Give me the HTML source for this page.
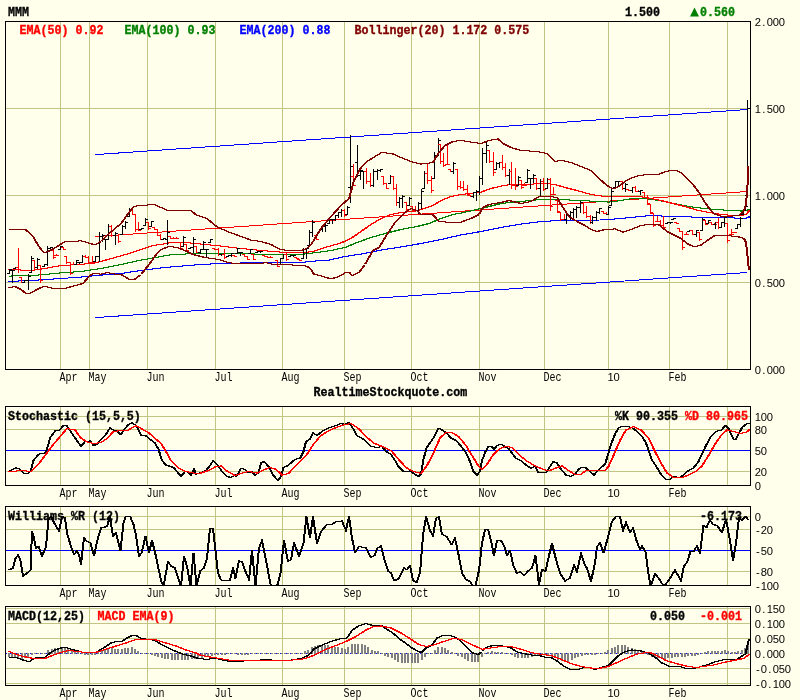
<!DOCTYPE html>
<html><head><meta charset="utf-8"><title>MMM</title>
<style>html,body{margin:0;padding:0;background:#FFFFEC;}svg{display:block;}text{-webkit-font-smoothing:antialiased;}</style></head>
<body>
<svg width="800" height="700" viewBox="0 0 800 700" shape-rendering="crispEdges" font-family="'Liberation Mono', monospace">
<rect width="800" height="700" fill="#FFFFEC"/>
<rect x="60" y="21" width="1" height="348" fill="#C2C484"/>
<rect x="89" y="21" width="1" height="348" fill="#C2C484"/>
<rect x="147" y="21" width="1" height="348" fill="#C2C484"/>
<rect x="215" y="21" width="1" height="348" fill="#C2C484"/>
<rect x="282" y="21" width="1" height="348" fill="#C2C484"/>
<rect x="344" y="21" width="1" height="348" fill="#C2C484"/>
<rect x="411" y="21" width="1" height="348" fill="#C2C484"/>
<rect x="479" y="21" width="1" height="348" fill="#C2C484"/>
<rect x="544" y="21" width="1" height="348" fill="#C2C484"/>
<rect x="608" y="21" width="1" height="348" fill="#C2C484"/>
<rect x="669" y="21" width="1" height="348" fill="#C2C484"/>
<rect x="727" y="21" width="1" height="348" fill="#C2C484"/>
<rect x="5" y="108" width="746" height="1" fill="#C2C484"/>
<rect x="5" y="195" width="746" height="1" fill="#C2C484"/>
<rect x="5" y="282" width="746" height="1" fill="#C2C484"/>
<polyline points="95.5,154.6 747.5,109.5" fill="none" stroke="#0000FF" stroke-width="1"/>
<polyline points="95.5,317.6 747.5,272.5" fill="none" stroke="#0000FF" stroke-width="1"/>
<polyline points="95.5,236.6 747.5,191.5" fill="none" stroke="#FF0000" stroke-width="1"/>
<polyline points="8.5,281.5 40.5,279.9 60.5,278.5 80.5,277.1 100.5,275.1 120.5,273.5 140.5,270.5 160.5,267.9 180.5,266.1 200.5,264.5 220.5,263.5 260.5,262.5 300.5,262.5 320.5,260.5 326.5,260.5 344.5,256.5 360.5,254.1 380.5,250.1 400.5,246.9 420.5,243.5 440.5,239.5 460.5,234.9 480.5,231.5 500.5,227.5 520.5,224.1 540.5,221.5 560.5,220.5 580.5,220.1 600.5,220.0 620.5,218.5 636.5,216.9 650.5,215.5 670.5,216.5 690.5,217.0 710.5,217.5 733.5,217.7 735.5,218.7 739.5,218.3 746.5,218.0 749.0,216.7" fill="none" stroke="#0000FF" stroke-width="1"/>
<polyline points="9.5,281.5 41.5,279.9 61.5,278.5 81.5,277.1 101.5,275.1 121.5,273.5 141.5,270.5 161.5,267.9 181.5,266.1 201.5,264.5 221.5,263.5 261.5,262.5 301.5,262.5 321.5,260.5 327.5,260.5 345.5,256.5 361.5,254.1 381.5,250.1 401.5,246.9 421.5,243.5 441.5,239.5 461.5,234.9 481.5,231.5 501.5,227.5 521.5,224.1 541.5,221.5 561.5,220.5 581.5,220.1 601.5,220.0 621.5,218.5 637.5,216.9 651.5,215.5 671.5,216.5 691.5,217.0 711.5,217.5 734.5,217.7 736.5,218.7 740.5,218.3 747.5,218.0 750.0,216.7" fill="none" stroke="#0000FF" stroke-width="1"/>
<polyline points="8.5,276.1 40.5,274.9 60.5,272.9 80.5,271.5 100.5,268.5 120.5,264.5 140.5,260.1 160.5,256.5 172.5,254.5 192.5,253.7 220.5,253.5 260.5,254.1 300.5,254.5 316.5,252.5 330.5,250.5 344.5,247.5 356.5,242.5 370.5,237.5 384.5,233.5 400.5,229.5 416.5,226.5 428.5,223.5 440.5,218.5 452.5,214.5 460.5,213.1 480.5,208.5 500.5,203.5 520.5,201.5 540.5,199.5 554.5,199.1 570.5,200.1 590.5,201.1 608.5,202.1 620.5,200.5 626.5,199.1 640.5,198.5 652.5,199.5 666.5,202.1 680.5,204.9 694.5,207.5 708.5,208.9 724.5,210.1 740.5,211.0 746.5,210.5 749.0,209.0" fill="none" stroke="#008000" stroke-width="1"/>
<polyline points="9.5,276.1 41.5,274.9 61.5,272.9 81.5,271.5 101.5,268.5 121.5,264.5 141.5,260.1 161.5,256.5 173.5,254.5 193.5,253.7 221.5,253.5 261.5,254.1 301.5,254.5 317.5,252.5 331.5,250.5 345.5,247.5 357.5,242.5 371.5,237.5 385.5,233.5 401.5,229.5 417.5,226.5 429.5,223.5 441.5,218.5 453.5,214.5 461.5,213.1 481.5,208.5 501.5,203.5 521.5,201.5 541.5,199.5 555.5,199.1 571.5,200.1 591.5,201.1 609.5,202.1 621.5,200.5 627.5,199.1 641.5,198.5 653.5,199.5 667.5,202.1 681.5,204.9 695.5,207.5 709.5,208.9 725.5,210.1 741.5,211.0 747.5,210.5 750.0,209.0" fill="none" stroke="#008000" stroke-width="1"/>
<polyline points="8.5,269.5 30.5,270.5 44.5,268.5 60.5,265.5 80.5,264.5 96.5,262.5 112.5,258.1 128.5,253.5 140.5,249.5 152.5,245.5 160.5,244.5 172.5,242.1 184.5,242.5 200.5,244.1 220.5,246.1 240.5,248.5 260.5,250.5 280.5,252.1 300.5,253.0 312.5,251.5 324.5,247.5 340.5,242.9 350.5,238.5 360.5,231.5 370.5,224.5 380.5,218.5 390.5,214.5 400.5,212.5 412.5,211.5 420.5,209.5 432.5,205.5 440.5,200.5 450.5,196.5 460.5,194.5 480.5,192.1 490.5,188.5 500.5,186.1 510.5,184.5 530.5,184.1 544.5,183.5 554.5,184.5 564.5,187.5 576.5,190.5 590.5,194.5 604.5,196.5 620.5,196.9 636.5,196.1 648.5,198.1 660.5,200.5 672.5,203.5 684.5,206.5 696.5,210.1 708.5,212.5 720.5,214.5 732.5,215.5 740.5,215.5 745.5,214.5 749.0,210.5" fill="none" stroke="#FF0000" stroke-width="1"/>
<polyline points="9.5,269.5 31.5,270.5 45.5,268.5 61.5,265.5 81.5,264.5 97.5,262.5 113.5,258.1 129.5,253.5 141.5,249.5 153.5,245.5 161.5,244.5 173.5,242.1 185.5,242.5 201.5,244.1 221.5,246.1 241.5,248.5 261.5,250.5 281.5,252.1 301.5,253.0 313.5,251.5 325.5,247.5 341.5,242.9 351.5,238.5 361.5,231.5 371.5,224.5 381.5,218.5 391.5,214.5 401.5,212.5 413.5,211.5 421.5,209.5 433.5,205.5 441.5,200.5 451.5,196.5 461.5,194.5 481.5,192.1 491.5,188.5 501.5,186.1 511.5,184.5 531.5,184.1 545.5,183.5 555.5,184.5 565.5,187.5 577.5,190.5 591.5,194.5 605.5,196.5 621.5,196.9 637.5,196.1 649.5,198.1 661.5,200.5 673.5,203.5 685.5,206.5 697.5,210.1 709.5,212.5 721.5,214.5 733.5,215.5 741.5,215.5 746.5,214.5 750.0,210.5" fill="none" stroke="#FF0000" stroke-width="1"/>
<rect x="9" y="269" width="1" height="5" fill="#000"/>
<rect x="7" y="273" width="2" height="1" fill="#000"/>
<rect x="10" y="269" width="2" height="1" fill="#000"/>
<rect x="12" y="270" width="1" height="13" fill="#000"/>
<rect x="10" y="270" width="2" height="1" fill="#000"/>
<rect x="13" y="270" width="2" height="1" fill="#000"/>
<rect x="15" y="267" width="1" height="2" fill="#000"/>
<rect x="13" y="268" width="2" height="1" fill="#000"/>
<rect x="16" y="267" width="2" height="1" fill="#000"/>
<rect x="18" y="248" width="1" height="25" fill="#FF0000"/>
<rect x="16" y="267" width="2" height="1" fill="#FF0000"/>
<rect x="19" y="269" width="2" height="1" fill="#FF0000"/>
<rect x="21" y="277" width="1" height="6" fill="#FF0000"/>
<rect x="19" y="277" width="2" height="1" fill="#FF0000"/>
<rect x="22" y="282" width="2" height="1" fill="#FF0000"/>
<rect x="24" y="280" width="1" height="3" fill="#000"/>
<rect x="22" y="282" width="2" height="1" fill="#000"/>
<rect x="25" y="280" width="2" height="1" fill="#000"/>
<rect x="28" y="274" width="1" height="16" fill="#000"/>
<rect x="26" y="280" width="2" height="1" fill="#000"/>
<rect x="29" y="276" width="2" height="1" fill="#000"/>
<rect x="31" y="256" width="1" height="17" fill="#000"/>
<rect x="29" y="272" width="2" height="1" fill="#000"/>
<rect x="32" y="258" width="2" height="1" fill="#000"/>
<rect x="34" y="260" width="1" height="9" fill="#FF0000"/>
<rect x="32" y="260" width="2" height="1" fill="#FF0000"/>
<rect x="35" y="267" width="2" height="1" fill="#FF0000"/>
<rect x="37" y="258" width="1" height="11" fill="#000"/>
<rect x="35" y="267" width="2" height="1" fill="#000"/>
<rect x="38" y="259" width="2" height="1" fill="#000"/>
<rect x="40" y="265" width="1" height="18" fill="#FF0000"/>
<rect x="38" y="265" width="2" height="1" fill="#FF0000"/>
<rect x="41" y="280" width="2" height="1" fill="#FF0000"/>
<rect x="44" y="264" width="1" height="3" fill="#000"/>
<rect x="42" y="266" width="2" height="1" fill="#000"/>
<rect x="45" y="264" width="2" height="1" fill="#000"/>
<rect x="47" y="246" width="1" height="20" fill="#000"/>
<rect x="45" y="264" width="2" height="1" fill="#000"/>
<rect x="48" y="248" width="2" height="1" fill="#000"/>
<rect x="50" y="247" width="1" height="3" fill="#000"/>
<rect x="48" y="248" width="2" height="1" fill="#000"/>
<rect x="51" y="247" width="2" height="1" fill="#000"/>
<rect x="53" y="250" width="1" height="9" fill="#FF0000"/>
<rect x="51" y="250" width="2" height="1" fill="#FF0000"/>
<rect x="54" y="257" width="2" height="1" fill="#FF0000"/>
<rect x="56" y="254" width="1" height="2" fill="#FF0000"/>
<rect x="54" y="255" width="2" height="1" fill="#FF0000"/>
<rect x="57" y="255" width="2" height="1" fill="#FF0000"/>
<rect x="60" y="246" width="1" height="4" fill="#000"/>
<rect x="58" y="249" width="2" height="1" fill="#000"/>
<rect x="61" y="246" width="2" height="1" fill="#000"/>
<rect x="63" y="247" width="1" height="3" fill="#FF0000"/>
<rect x="61" y="247" width="2" height="1" fill="#FF0000"/>
<rect x="64" y="249" width="2" height="1" fill="#FF0000"/>
<rect x="66" y="256" width="1" height="8" fill="#FF0000"/>
<rect x="64" y="256" width="2" height="1" fill="#FF0000"/>
<rect x="67" y="262" width="2" height="1" fill="#FF0000"/>
<rect x="70" y="262" width="1" height="13" fill="#FF0000"/>
<rect x="68" y="262" width="2" height="1" fill="#FF0000"/>
<rect x="71" y="273" width="2" height="1" fill="#FF0000"/>
<rect x="73" y="262" width="1" height="3" fill="#FF0000"/>
<rect x="71" y="264" width="2" height="1" fill="#FF0000"/>
<rect x="74" y="264" width="2" height="1" fill="#FF0000"/>
<rect x="76" y="260" width="1" height="5" fill="#000"/>
<rect x="74" y="264" width="2" height="1" fill="#000"/>
<rect x="77" y="260" width="2" height="1" fill="#000"/>
<rect x="79" y="262" width="1" height="2" fill="#000"/>
<rect x="77" y="262" width="2" height="1" fill="#000"/>
<rect x="80" y="262" width="2" height="1" fill="#000"/>
<rect x="82" y="255" width="1" height="8" fill="#000"/>
<rect x="80" y="262" width="2" height="1" fill="#000"/>
<rect x="83" y="256" width="2" height="1" fill="#000"/>
<rect x="85" y="255" width="1" height="3" fill="#FF0000"/>
<rect x="83" y="256" width="2" height="1" fill="#FF0000"/>
<rect x="86" y="257" width="2" height="1" fill="#FF0000"/>
<rect x="88" y="256" width="1" height="7" fill="#FF0000"/>
<rect x="86" y="257" width="2" height="1" fill="#FF0000"/>
<rect x="89" y="262" width="2" height="1" fill="#FF0000"/>
<rect x="92" y="256" width="1" height="8" fill="#FF0000"/>
<rect x="90" y="262" width="2" height="1" fill="#FF0000"/>
<rect x="93" y="263" width="2" height="1" fill="#FF0000"/>
<rect x="95" y="256" width="1" height="6" fill="#000"/>
<rect x="93" y="261" width="2" height="1" fill="#000"/>
<rect x="96" y="256" width="2" height="1" fill="#000"/>
<rect x="99" y="232" width="1" height="30" fill="#000"/>
<rect x="97" y="256" width="2" height="1" fill="#000"/>
<rect x="100" y="236" width="2" height="1" fill="#000"/>
<rect x="102" y="234" width="1" height="8" fill="#000"/>
<rect x="100" y="236" width="2" height="1" fill="#000"/>
<rect x="103" y="235" width="2" height="1" fill="#000"/>
<rect x="105" y="239" width="1" height="11" fill="#000"/>
<rect x="103" y="239" width="2" height="1" fill="#000"/>
<rect x="106" y="239" width="2" height="1" fill="#000"/>
<rect x="108" y="224" width="1" height="16" fill="#000"/>
<rect x="106" y="239" width="2" height="1" fill="#000"/>
<rect x="109" y="226" width="2" height="1" fill="#000"/>
<rect x="111" y="225" width="1" height="12" fill="#FF0000"/>
<rect x="109" y="226" width="2" height="1" fill="#FF0000"/>
<rect x="112" y="235" width="2" height="1" fill="#FF0000"/>
<rect x="115" y="232" width="1" height="13" fill="#000"/>
<rect x="113" y="235" width="2" height="1" fill="#000"/>
<rect x="116" y="233" width="2" height="1" fill="#000"/>
<rect x="118" y="235" width="1" height="8" fill="#FF0000"/>
<rect x="116" y="235" width="2" height="1" fill="#FF0000"/>
<rect x="119" y="241" width="2" height="1" fill="#FF0000"/>
<rect x="122" y="225" width="1" height="10" fill="#000"/>
<rect x="120" y="234" width="2" height="1" fill="#000"/>
<rect x="123" y="226" width="2" height="1" fill="#000"/>
<rect x="125" y="221" width="1" height="8" fill="#000"/>
<rect x="123" y="226" width="2" height="1" fill="#000"/>
<rect x="126" y="222" width="2" height="1" fill="#000"/>
<rect x="129" y="208" width="1" height="9" fill="#000"/>
<rect x="127" y="216" width="2" height="1" fill="#000"/>
<rect x="130" y="209" width="2" height="1" fill="#000"/>
<rect x="132" y="209" width="1" height="6" fill="#FF0000"/>
<rect x="130" y="209" width="2" height="1" fill="#FF0000"/>
<rect x="133" y="214" width="2" height="1" fill="#FF0000"/>
<rect x="135" y="214" width="1" height="18" fill="#FF0000"/>
<rect x="133" y="214" width="2" height="1" fill="#FF0000"/>
<rect x="136" y="229" width="2" height="1" fill="#FF0000"/>
<rect x="138" y="222" width="1" height="9" fill="#FF0000"/>
<rect x="136" y="229" width="2" height="1" fill="#FF0000"/>
<rect x="139" y="230" width="2" height="1" fill="#FF0000"/>
<rect x="141" y="228" width="1" height="2" fill="#000"/>
<rect x="139" y="229" width="2" height="1" fill="#000"/>
<rect x="142" y="228" width="2" height="1" fill="#000"/>
<rect x="145" y="218" width="1" height="8" fill="#000"/>
<rect x="143" y="225" width="2" height="1" fill="#000"/>
<rect x="146" y="219" width="2" height="1" fill="#000"/>
<rect x="148" y="222" width="1" height="8" fill="#FF0000"/>
<rect x="146" y="222" width="2" height="1" fill="#FF0000"/>
<rect x="149" y="228" width="2" height="1" fill="#FF0000"/>
<rect x="151" y="221" width="1" height="6" fill="#000"/>
<rect x="149" y="226" width="2" height="1" fill="#000"/>
<rect x="152" y="221" width="2" height="1" fill="#000"/>
<rect x="154" y="227" width="1" height="3" fill="#FF0000"/>
<rect x="152" y="227" width="2" height="1" fill="#FF0000"/>
<rect x="155" y="229" width="2" height="1" fill="#FF0000"/>
<rect x="157" y="229" width="1" height="7" fill="#FF0000"/>
<rect x="155" y="229" width="2" height="1" fill="#FF0000"/>
<rect x="158" y="235" width="2" height="1" fill="#FF0000"/>
<rect x="160" y="234" width="1" height="6" fill="#FF0000"/>
<rect x="158" y="235" width="2" height="1" fill="#FF0000"/>
<rect x="161" y="239" width="2" height="1" fill="#FF0000"/>
<rect x="163" y="238" width="1" height="2" fill="#000"/>
<rect x="161" y="239" width="2" height="1" fill="#000"/>
<rect x="164" y="238" width="2" height="1" fill="#000"/>
<rect x="167" y="220" width="1" height="25" fill="#000"/>
<rect x="165" y="239" width="2" height="1" fill="#000"/>
<rect x="168" y="232" width="2" height="1" fill="#000"/>
<rect x="170" y="236" width="1" height="3" fill="#FF0000"/>
<rect x="168" y="236" width="2" height="1" fill="#FF0000"/>
<rect x="171" y="238" width="2" height="1" fill="#FF0000"/>
<rect x="173" y="237" width="1" height="2" fill="#FF0000"/>
<rect x="171" y="238" width="2" height="1" fill="#FF0000"/>
<rect x="174" y="238" width="2" height="1" fill="#FF0000"/>
<rect x="176" y="237" width="1" height="2" fill="#FF0000"/>
<rect x="174" y="238" width="2" height="1" fill="#FF0000"/>
<rect x="177" y="238" width="2" height="1" fill="#FF0000"/>
<rect x="180" y="242" width="1" height="7" fill="#FF0000"/>
<rect x="178" y="242" width="2" height="1" fill="#FF0000"/>
<rect x="181" y="248" width="2" height="1" fill="#FF0000"/>
<rect x="183" y="236" width="1" height="11" fill="#000"/>
<rect x="181" y="246" width="2" height="1" fill="#000"/>
<rect x="184" y="237" width="2" height="1" fill="#000"/>
<rect x="186" y="244" width="1" height="7" fill="#FF0000"/>
<rect x="184" y="244" width="2" height="1" fill="#FF0000"/>
<rect x="187" y="250" width="2" height="1" fill="#FF0000"/>
<rect x="190" y="247" width="1" height="2" fill="#000"/>
<rect x="188" y="248" width="2" height="1" fill="#000"/>
<rect x="191" y="247" width="2" height="1" fill="#000"/>
<rect x="193" y="237" width="1" height="16" fill="#000"/>
<rect x="191" y="247" width="2" height="1" fill="#000"/>
<rect x="194" y="239" width="2" height="1" fill="#000"/>
<rect x="196" y="246" width="1" height="7" fill="#FF0000"/>
<rect x="194" y="246" width="2" height="1" fill="#FF0000"/>
<rect x="197" y="252" width="2" height="1" fill="#FF0000"/>
<rect x="200" y="249" width="1" height="5" fill="#000"/>
<rect x="198" y="252" width="2" height="1" fill="#000"/>
<rect x="201" y="249" width="2" height="1" fill="#000"/>
<rect x="203" y="241" width="1" height="9" fill="#000"/>
<rect x="201" y="249" width="2" height="1" fill="#000"/>
<rect x="204" y="242" width="2" height="1" fill="#000"/>
<rect x="206" y="249" width="1" height="8" fill="#000"/>
<rect x="204" y="249" width="2" height="1" fill="#000"/>
<rect x="207" y="249" width="2" height="1" fill="#000"/>
<rect x="210" y="239" width="1" height="4" fill="#000"/>
<rect x="208" y="242" width="2" height="1" fill="#000"/>
<rect x="211" y="239" width="2" height="1" fill="#000"/>
<rect x="214" y="248" width="1" height="2" fill="#FF0000"/>
<rect x="212" y="248" width="2" height="1" fill="#FF0000"/>
<rect x="215" y="249" width="2" height="1" fill="#FF0000"/>
<rect x="218" y="248" width="1" height="8" fill="#FF0000"/>
<rect x="216" y="249" width="2" height="1" fill="#FF0000"/>
<rect x="219" y="254" width="2" height="1" fill="#FF0000"/>
<rect x="221" y="254" width="1" height="2" fill="#000"/>
<rect x="219" y="254" width="2" height="1" fill="#000"/>
<rect x="222" y="254" width="2" height="1" fill="#000"/>
<rect x="224" y="249" width="1" height="10" fill="#FF0000"/>
<rect x="222" y="254" width="2" height="1" fill="#FF0000"/>
<rect x="225" y="257" width="2" height="1" fill="#FF0000"/>
<rect x="228" y="255" width="1" height="2" fill="#000"/>
<rect x="226" y="256" width="2" height="1" fill="#000"/>
<rect x="229" y="255" width="2" height="1" fill="#000"/>
<rect x="231" y="253" width="1" height="4" fill="#000"/>
<rect x="229" y="255" width="2" height="1" fill="#000"/>
<rect x="232" y="253" width="2" height="1" fill="#000"/>
<rect x="234" y="255" width="1" height="2" fill="#FF0000"/>
<rect x="232" y="255" width="2" height="1" fill="#FF0000"/>
<rect x="235" y="256" width="2" height="1" fill="#FF0000"/>
<rect x="237" y="248" width="1" height="6" fill="#000"/>
<rect x="235" y="253" width="2" height="1" fill="#000"/>
<rect x="238" y="248" width="2" height="1" fill="#000"/>
<rect x="240" y="252" width="1" height="4" fill="#000"/>
<rect x="238" y="252" width="2" height="1" fill="#000"/>
<rect x="241" y="252" width="2" height="1" fill="#000"/>
<rect x="244" y="254" width="1" height="3" fill="#FF0000"/>
<rect x="242" y="254" width="2" height="1" fill="#FF0000"/>
<rect x="245" y="256" width="2" height="1" fill="#FF0000"/>
<rect x="247" y="256" width="1" height="4" fill="#FF0000"/>
<rect x="245" y="256" width="2" height="1" fill="#FF0000"/>
<rect x="248" y="259" width="2" height="1" fill="#FF0000"/>
<rect x="250" y="249" width="1" height="5" fill="#000"/>
<rect x="248" y="253" width="2" height="1" fill="#000"/>
<rect x="251" y="249" width="2" height="1" fill="#000"/>
<rect x="253" y="254" width="1" height="6" fill="#FF0000"/>
<rect x="251" y="254" width="2" height="1" fill="#FF0000"/>
<rect x="254" y="259" width="2" height="1" fill="#FF0000"/>
<rect x="257" y="251" width="1" height="2" fill="#000"/>
<rect x="255" y="252" width="2" height="1" fill="#000"/>
<rect x="258" y="251" width="2" height="1" fill="#000"/>
<rect x="260" y="251" width="1" height="2" fill="#000"/>
<rect x="258" y="251" width="2" height="1" fill="#000"/>
<rect x="261" y="251" width="2" height="1" fill="#000"/>
<rect x="264" y="255" width="1" height="2" fill="#FF0000"/>
<rect x="262" y="255" width="2" height="1" fill="#FF0000"/>
<rect x="265" y="256" width="2" height="1" fill="#FF0000"/>
<rect x="267" y="256" width="1" height="2" fill="#FF0000"/>
<rect x="265" y="256" width="2" height="1" fill="#FF0000"/>
<rect x="268" y="257" width="2" height="1" fill="#FF0000"/>
<rect x="270" y="256" width="1" height="2" fill="#FF0000"/>
<rect x="268" y="257" width="2" height="1" fill="#FF0000"/>
<rect x="271" y="257" width="2" height="1" fill="#FF0000"/>
<rect x="277" y="260" width="1" height="7" fill="#FF0000"/>
<rect x="275" y="260" width="2" height="1" fill="#FF0000"/>
<rect x="278" y="266" width="2" height="1" fill="#FF0000"/>
<rect x="280" y="258" width="1" height="7" fill="#000"/>
<rect x="278" y="264" width="2" height="1" fill="#000"/>
<rect x="281" y="258" width="2" height="1" fill="#000"/>
<rect x="283" y="254" width="1" height="5" fill="#000"/>
<rect x="281" y="258" width="2" height="1" fill="#000"/>
<rect x="284" y="254" width="2" height="1" fill="#000"/>
<rect x="286" y="253" width="1" height="8" fill="#FF0000"/>
<rect x="284" y="254" width="2" height="1" fill="#FF0000"/>
<rect x="287" y="259" width="2" height="1" fill="#FF0000"/>
<rect x="290" y="255" width="1" height="2" fill="#000"/>
<rect x="288" y="256" width="2" height="1" fill="#000"/>
<rect x="291" y="255" width="2" height="1" fill="#000"/>
<rect x="293" y="255" width="1" height="2" fill="#000"/>
<rect x="291" y="255" width="2" height="1" fill="#000"/>
<rect x="294" y="255" width="2" height="1" fill="#000"/>
<rect x="296" y="257" width="1" height="2" fill="#FF0000"/>
<rect x="294" y="257" width="2" height="1" fill="#FF0000"/>
<rect x="297" y="258" width="2" height="1" fill="#FF0000"/>
<rect x="299" y="259" width="1" height="2" fill="#FF0000"/>
<rect x="297" y="259" width="2" height="1" fill="#FF0000"/>
<rect x="300" y="260" width="2" height="1" fill="#FF0000"/>
<rect x="303" y="248" width="1" height="11" fill="#000"/>
<rect x="301" y="258" width="2" height="1" fill="#000"/>
<rect x="304" y="249" width="2" height="1" fill="#000"/>
<rect x="306" y="248" width="1" height="11" fill="#000"/>
<rect x="304" y="249" width="2" height="1" fill="#000"/>
<rect x="307" y="248" width="2" height="1" fill="#000"/>
<rect x="309" y="230" width="1" height="16" fill="#000"/>
<rect x="307" y="245" width="2" height="1" fill="#000"/>
<rect x="310" y="232" width="2" height="1" fill="#000"/>
<rect x="312" y="220" width="1" height="17" fill="#000"/>
<rect x="310" y="232" width="2" height="1" fill="#000"/>
<rect x="313" y="222" width="2" height="1" fill="#000"/>
<rect x="316" y="235" width="1" height="5" fill="#FF0000"/>
<rect x="314" y="235" width="2" height="1" fill="#FF0000"/>
<rect x="317" y="239" width="2" height="1" fill="#FF0000"/>
<rect x="319" y="229" width="1" height="4" fill="#000"/>
<rect x="317" y="232" width="2" height="1" fill="#000"/>
<rect x="320" y="229" width="2" height="1" fill="#000"/>
<rect x="322" y="226" width="1" height="6" fill="#000"/>
<rect x="320" y="229" width="2" height="1" fill="#000"/>
<rect x="323" y="226" width="2" height="1" fill="#000"/>
<rect x="325" y="224" width="1" height="8" fill="#000"/>
<rect x="323" y="226" width="2" height="1" fill="#000"/>
<rect x="326" y="225" width="2" height="1" fill="#000"/>
<rect x="329" y="219" width="1" height="5" fill="#000"/>
<rect x="327" y="223" width="2" height="1" fill="#000"/>
<rect x="330" y="219" width="2" height="1" fill="#000"/>
<rect x="332" y="219" width="1" height="5" fill="#000"/>
<rect x="330" y="219" width="2" height="1" fill="#000"/>
<rect x="333" y="219" width="2" height="1" fill="#000"/>
<rect x="335" y="215" width="1" height="6" fill="#000"/>
<rect x="333" y="219" width="2" height="1" fill="#000"/>
<rect x="336" y="215" width="2" height="1" fill="#000"/>
<rect x="338" y="212" width="1" height="6" fill="#000"/>
<rect x="336" y="215" width="2" height="1" fill="#000"/>
<rect x="339" y="212" width="2" height="1" fill="#000"/>
<rect x="341" y="209" width="1" height="8" fill="#000"/>
<rect x="339" y="212" width="2" height="1" fill="#000"/>
<rect x="342" y="210" width="2" height="1" fill="#000"/>
<rect x="344" y="209" width="1" height="8" fill="#FF0000"/>
<rect x="342" y="210" width="2" height="1" fill="#FF0000"/>
<rect x="345" y="215" width="2" height="1" fill="#FF0000"/>
<rect x="347" y="206" width="1" height="9" fill="#000"/>
<rect x="345" y="214" width="2" height="1" fill="#000"/>
<rect x="348" y="207" width="2" height="1" fill="#000"/>
<rect x="350" y="135" width="1" height="68" fill="#000"/>
<rect x="348" y="187" width="2" height="1" fill="#000"/>
<rect x="351" y="166" width="2" height="1" fill="#000"/>
<rect x="353" y="164" width="1" height="22" fill="#FF0000"/>
<rect x="351" y="176" width="2" height="1" fill="#FF0000"/>
<rect x="354" y="185" width="2" height="1" fill="#FF0000"/>
<rect x="357" y="145" width="1" height="32" fill="#000"/>
<rect x="355" y="162" width="2" height="1" fill="#000"/>
<rect x="358" y="175" width="2" height="1" fill="#000"/>
<rect x="360" y="169" width="1" height="11" fill="#000"/>
<rect x="358" y="175" width="2" height="1" fill="#000"/>
<rect x="361" y="170" width="2" height="1" fill="#000"/>
<rect x="363" y="171" width="1" height="18" fill="#000"/>
<rect x="361" y="171" width="2" height="1" fill="#000"/>
<rect x="364" y="171" width="2" height="1" fill="#000"/>
<rect x="366" y="168" width="1" height="16" fill="#FF0000"/>
<rect x="364" y="171" width="2" height="1" fill="#FF0000"/>
<rect x="367" y="181" width="2" height="1" fill="#FF0000"/>
<rect x="370" y="173" width="1" height="14" fill="#FF0000"/>
<rect x="368" y="181" width="2" height="1" fill="#FF0000"/>
<rect x="371" y="185" width="2" height="1" fill="#FF0000"/>
<rect x="373" y="169" width="1" height="18" fill="#000"/>
<rect x="371" y="185" width="2" height="1" fill="#000"/>
<rect x="374" y="171" width="2" height="1" fill="#000"/>
<rect x="377" y="169" width="1" height="11" fill="#000"/>
<rect x="375" y="171" width="2" height="1" fill="#000"/>
<rect x="378" y="170" width="2" height="1" fill="#000"/>
<rect x="380" y="169" width="1" height="3" fill="#000"/>
<rect x="378" y="170" width="2" height="1" fill="#000"/>
<rect x="381" y="169" width="2" height="1" fill="#000"/>
<rect x="383" y="176" width="1" height="9" fill="#FF0000"/>
<rect x="381" y="176" width="2" height="1" fill="#FF0000"/>
<rect x="384" y="183" width="2" height="1" fill="#FF0000"/>
<rect x="386" y="183" width="1" height="6" fill="#FF0000"/>
<rect x="384" y="183" width="2" height="1" fill="#FF0000"/>
<rect x="387" y="188" width="2" height="1" fill="#FF0000"/>
<rect x="390" y="175" width="1" height="9" fill="#000"/>
<rect x="388" y="183" width="2" height="1" fill="#000"/>
<rect x="391" y="176" width="2" height="1" fill="#000"/>
<rect x="393" y="176" width="1" height="14" fill="#FF0000"/>
<rect x="391" y="176" width="2" height="1" fill="#FF0000"/>
<rect x="394" y="188" width="2" height="1" fill="#FF0000"/>
<rect x="396" y="184" width="1" height="22" fill="#FF0000"/>
<rect x="394" y="188" width="2" height="1" fill="#FF0000"/>
<rect x="397" y="202" width="2" height="1" fill="#FF0000"/>
<rect x="399" y="197" width="1" height="11" fill="#000"/>
<rect x="397" y="202" width="2" height="1" fill="#000"/>
<rect x="400" y="198" width="2" height="1" fill="#000"/>
<rect x="402" y="195" width="1" height="13" fill="#000"/>
<rect x="400" y="198" width="2" height="1" fill="#000"/>
<rect x="403" y="196" width="2" height="1" fill="#000"/>
<rect x="406" y="202" width="1" height="9" fill="#FF0000"/>
<rect x="404" y="202" width="2" height="1" fill="#FF0000"/>
<rect x="407" y="209" width="2" height="1" fill="#FF0000"/>
<rect x="409" y="197" width="1" height="9" fill="#000"/>
<rect x="407" y="205" width="2" height="1" fill="#000"/>
<rect x="410" y="198" width="2" height="1" fill="#000"/>
<rect x="412" y="206" width="1" height="5" fill="#FF0000"/>
<rect x="410" y="206" width="2" height="1" fill="#FF0000"/>
<rect x="413" y="210" width="2" height="1" fill="#FF0000"/>
<rect x="415" y="206" width="1" height="5" fill="#FF0000"/>
<rect x="413" y="210" width="2" height="1" fill="#FF0000"/>
<rect x="416" y="210" width="2" height="1" fill="#FF0000"/>
<rect x="418" y="202" width="1" height="12" fill="#000"/>
<rect x="416" y="210" width="2" height="1" fill="#000"/>
<rect x="419" y="203" width="2" height="1" fill="#000"/>
<rect x="421" y="189" width="1" height="20" fill="#000"/>
<rect x="419" y="203" width="2" height="1" fill="#000"/>
<rect x="422" y="191" width="2" height="1" fill="#000"/>
<rect x="424" y="171" width="1" height="18" fill="#000"/>
<rect x="422" y="188" width="2" height="1" fill="#000"/>
<rect x="425" y="173" width="2" height="1" fill="#000"/>
<rect x="427" y="163" width="1" height="21" fill="#FF0000"/>
<rect x="425" y="173" width="2" height="1" fill="#FF0000"/>
<rect x="428" y="180" width="2" height="1" fill="#FF0000"/>
<rect x="431" y="176" width="1" height="17" fill="#FF0000"/>
<rect x="429" y="180" width="2" height="1" fill="#FF0000"/>
<rect x="432" y="190" width="2" height="1" fill="#FF0000"/>
<rect x="434" y="152" width="1" height="27" fill="#000"/>
<rect x="432" y="178" width="2" height="1" fill="#000"/>
<rect x="435" y="155" width="2" height="1" fill="#000"/>
<rect x="438" y="138" width="1" height="18" fill="#000"/>
<rect x="436" y="155" width="2" height="1" fill="#000"/>
<rect x="439" y="140" width="2" height="1" fill="#000"/>
<rect x="440" y="144" width="1" height="20" fill="#FF0000"/>
<rect x="438" y="144" width="2" height="1" fill="#FF0000"/>
<rect x="441" y="161" width="2" height="1" fill="#FF0000"/>
<rect x="443" y="153" width="1" height="14" fill="#FF0000"/>
<rect x="441" y="161" width="2" height="1" fill="#FF0000"/>
<rect x="444" y="165" width="2" height="1" fill="#FF0000"/>
<rect x="447" y="144" width="1" height="21" fill="#FF0000"/>
<rect x="445" y="164" width="2" height="1" fill="#FF0000"/>
<rect x="448" y="164" width="2" height="1" fill="#FF0000"/>
<rect x="450" y="169" width="1" height="3" fill="#FF0000"/>
<rect x="448" y="169" width="2" height="1" fill="#FF0000"/>
<rect x="451" y="171" width="2" height="1" fill="#FF0000"/>
<rect x="453" y="162" width="1" height="12" fill="#000"/>
<rect x="451" y="171" width="2" height="1" fill="#000"/>
<rect x="454" y="163" width="2" height="1" fill="#000"/>
<rect x="457" y="169" width="1" height="21" fill="#FF0000"/>
<rect x="455" y="169" width="2" height="1" fill="#FF0000"/>
<rect x="458" y="186" width="2" height="1" fill="#FF0000"/>
<rect x="460" y="181" width="1" height="8" fill="#FF0000"/>
<rect x="458" y="186" width="2" height="1" fill="#FF0000"/>
<rect x="461" y="187" width="2" height="1" fill="#FF0000"/>
<rect x="463" y="181" width="1" height="10" fill="#FF0000"/>
<rect x="461" y="187" width="2" height="1" fill="#FF0000"/>
<rect x="464" y="189" width="2" height="1" fill="#FF0000"/>
<rect x="467" y="185" width="1" height="11" fill="#FF0000"/>
<rect x="465" y="189" width="2" height="1" fill="#FF0000"/>
<rect x="468" y="194" width="2" height="1" fill="#FF0000"/>
<rect x="470" y="195" width="1" height="2" fill="#FF0000"/>
<rect x="468" y="195" width="2" height="1" fill="#FF0000"/>
<rect x="471" y="196" width="2" height="1" fill="#FF0000"/>
<rect x="473" y="192" width="1" height="6" fill="#000"/>
<rect x="471" y="196" width="2" height="1" fill="#000"/>
<rect x="474" y="192" width="2" height="1" fill="#000"/>
<rect x="476" y="190" width="1" height="11" fill="#000"/>
<rect x="474" y="192" width="2" height="1" fill="#000"/>
<rect x="477" y="191" width="2" height="1" fill="#000"/>
<rect x="479" y="176" width="1" height="19" fill="#000"/>
<rect x="477" y="191" width="2" height="1" fill="#000"/>
<rect x="480" y="178" width="2" height="1" fill="#000"/>
<rect x="482" y="148" width="1" height="37" fill="#000"/>
<rect x="480" y="178" width="2" height="1" fill="#000"/>
<rect x="483" y="153" width="2" height="1" fill="#000"/>
<rect x="486" y="142" width="1" height="21" fill="#000"/>
<rect x="484" y="153" width="2" height="1" fill="#000"/>
<rect x="487" y="145" width="2" height="1" fill="#000"/>
<rect x="489" y="150" width="1" height="13" fill="#FF0000"/>
<rect x="487" y="150" width="2" height="1" fill="#FF0000"/>
<rect x="490" y="161" width="2" height="1" fill="#FF0000"/>
<rect x="493" y="152" width="1" height="24" fill="#FF0000"/>
<rect x="491" y="161" width="2" height="1" fill="#FF0000"/>
<rect x="494" y="172" width="2" height="1" fill="#FF0000"/>
<rect x="496" y="162" width="1" height="8" fill="#000"/>
<rect x="494" y="169" width="2" height="1" fill="#000"/>
<rect x="497" y="163" width="2" height="1" fill="#000"/>
<rect x="499" y="162" width="1" height="6" fill="#000"/>
<rect x="497" y="163" width="2" height="1" fill="#000"/>
<rect x="500" y="162" width="2" height="1" fill="#000"/>
<rect x="502" y="155" width="1" height="15" fill="#FF0000"/>
<rect x="500" y="162" width="2" height="1" fill="#FF0000"/>
<rect x="503" y="167" width="2" height="1" fill="#FF0000"/>
<rect x="505" y="163" width="1" height="14" fill="#FF0000"/>
<rect x="503" y="167" width="2" height="1" fill="#FF0000"/>
<rect x="506" y="175" width="2" height="1" fill="#FF0000"/>
<rect x="509" y="169" width="1" height="16" fill="#000"/>
<rect x="507" y="175" width="2" height="1" fill="#000"/>
<rect x="510" y="171" width="2" height="1" fill="#000"/>
<rect x="511" y="162" width="1" height="27" fill="#FF0000"/>
<rect x="509" y="171" width="2" height="1" fill="#FF0000"/>
<rect x="512" y="185" width="2" height="1" fill="#FF0000"/>
<rect x="515" y="168" width="1" height="22" fill="#FF0000"/>
<rect x="513" y="185" width="2" height="1" fill="#FF0000"/>
<rect x="516" y="186" width="2" height="1" fill="#FF0000"/>
<rect x="518" y="176" width="1" height="10" fill="#000"/>
<rect x="516" y="185" width="2" height="1" fill="#000"/>
<rect x="519" y="177" width="2" height="1" fill="#000"/>
<rect x="521" y="180" width="1" height="9" fill="#FF0000"/>
<rect x="519" y="180" width="2" height="1" fill="#FF0000"/>
<rect x="522" y="187" width="2" height="1" fill="#FF0000"/>
<rect x="524" y="183" width="1" height="3" fill="#FF0000"/>
<rect x="522" y="185" width="2" height="1" fill="#FF0000"/>
<rect x="525" y="185" width="2" height="1" fill="#FF0000"/>
<rect x="527" y="169" width="1" height="14" fill="#000"/>
<rect x="525" y="182" width="2" height="1" fill="#000"/>
<rect x="528" y="170" width="2" height="1" fill="#000"/>
<rect x="530" y="178" width="1" height="11" fill="#000"/>
<rect x="528" y="178" width="2" height="1" fill="#000"/>
<rect x="531" y="178" width="2" height="1" fill="#000"/>
<rect x="533" y="174" width="1" height="9" fill="#000"/>
<rect x="531" y="178" width="2" height="1" fill="#000"/>
<rect x="534" y="175" width="2" height="1" fill="#000"/>
<rect x="536" y="178" width="1" height="12" fill="#FF0000"/>
<rect x="534" y="178" width="2" height="1" fill="#FF0000"/>
<rect x="537" y="188" width="2" height="1" fill="#FF0000"/>
<rect x="540" y="179" width="1" height="17" fill="#000"/>
<rect x="538" y="188" width="2" height="1" fill="#000"/>
<rect x="541" y="181" width="2" height="1" fill="#000"/>
<rect x="543" y="178" width="1" height="13" fill="#FF0000"/>
<rect x="541" y="181" width="2" height="1" fill="#FF0000"/>
<rect x="544" y="189" width="2" height="1" fill="#FF0000"/>
<rect x="547" y="178" width="1" height="11" fill="#000"/>
<rect x="545" y="188" width="2" height="1" fill="#000"/>
<rect x="548" y="179" width="2" height="1" fill="#000"/>
<rect x="550" y="178" width="1" height="33" fill="#FF0000"/>
<rect x="548" y="179" width="2" height="1" fill="#FF0000"/>
<rect x="551" y="206" width="2" height="1" fill="#FF0000"/>
<rect x="553" y="187" width="1" height="8" fill="#FF0000"/>
<rect x="551" y="194" width="2" height="1" fill="#FF0000"/>
<rect x="554" y="194" width="2" height="1" fill="#FF0000"/>
<rect x="557" y="200" width="1" height="13" fill="#FF0000"/>
<rect x="555" y="200" width="2" height="1" fill="#FF0000"/>
<rect x="558" y="211" width="2" height="1" fill="#FF0000"/>
<rect x="560" y="212" width="1" height="9" fill="#FF0000"/>
<rect x="558" y="212" width="2" height="1" fill="#FF0000"/>
<rect x="561" y="219" width="2" height="1" fill="#FF0000"/>
<rect x="564" y="214" width="1" height="6" fill="#FF0000"/>
<rect x="562" y="219" width="2" height="1" fill="#FF0000"/>
<rect x="565" y="219" width="2" height="1" fill="#FF0000"/>
<rect x="566" y="214" width="1" height="10" fill="#000"/>
<rect x="564" y="219" width="2" height="1" fill="#000"/>
<rect x="567" y="215" width="2" height="1" fill="#000"/>
<rect x="570" y="211" width="1" height="9" fill="#000"/>
<rect x="568" y="215" width="2" height="1" fill="#000"/>
<rect x="571" y="212" width="2" height="1" fill="#000"/>
<rect x="573" y="208" width="1" height="12" fill="#000"/>
<rect x="571" y="212" width="2" height="1" fill="#000"/>
<rect x="574" y="209" width="2" height="1" fill="#000"/>
<rect x="576" y="206" width="1" height="12" fill="#000"/>
<rect x="574" y="209" width="2" height="1" fill="#000"/>
<rect x="577" y="207" width="2" height="1" fill="#000"/>
<rect x="580" y="201" width="1" height="12" fill="#000"/>
<rect x="578" y="207" width="2" height="1" fill="#000"/>
<rect x="581" y="202" width="2" height="1" fill="#000"/>
<rect x="583" y="203" width="1" height="11" fill="#FF0000"/>
<rect x="581" y="203" width="2" height="1" fill="#FF0000"/>
<rect x="584" y="212" width="2" height="1" fill="#FF0000"/>
<rect x="586" y="206" width="1" height="12" fill="#FF0000"/>
<rect x="584" y="212" width="2" height="1" fill="#FF0000"/>
<rect x="587" y="216" width="2" height="1" fill="#FF0000"/>
<rect x="590" y="215" width="1" height="9" fill="#FF0000"/>
<rect x="588" y="216" width="2" height="1" fill="#FF0000"/>
<rect x="591" y="222" width="2" height="1" fill="#FF0000"/>
<rect x="592" y="216" width="1" height="8" fill="#000"/>
<rect x="590" y="222" width="2" height="1" fill="#000"/>
<rect x="593" y="217" width="2" height="1" fill="#000"/>
<rect x="596" y="211" width="1" height="10" fill="#000"/>
<rect x="594" y="217" width="2" height="1" fill="#000"/>
<rect x="597" y="212" width="2" height="1" fill="#000"/>
<rect x="599" y="208" width="1" height="6" fill="#000"/>
<rect x="597" y="212" width="2" height="1" fill="#000"/>
<rect x="600" y="208" width="2" height="1" fill="#000"/>
<rect x="603" y="211" width="1" height="3" fill="#FF0000"/>
<rect x="601" y="211" width="2" height="1" fill="#FF0000"/>
<rect x="604" y="213" width="2" height="1" fill="#FF0000"/>
<rect x="606" y="212" width="1" height="3" fill="#FF0000"/>
<rect x="604" y="213" width="2" height="1" fill="#FF0000"/>
<rect x="607" y="214" width="2" height="1" fill="#FF0000"/>
<rect x="608" y="206" width="1" height="9" fill="#000"/>
<rect x="606" y="214" width="2" height="1" fill="#000"/>
<rect x="609" y="207" width="2" height="1" fill="#000"/>
<rect x="611" y="189" width="1" height="17" fill="#000"/>
<rect x="609" y="205" width="2" height="1" fill="#000"/>
<rect x="612" y="191" width="2" height="1" fill="#000"/>
<rect x="615" y="181" width="1" height="7" fill="#000"/>
<rect x="613" y="187" width="2" height="1" fill="#000"/>
<rect x="616" y="181" width="2" height="1" fill="#000"/>
<rect x="618" y="181" width="1" height="5" fill="#000"/>
<rect x="616" y="181" width="2" height="1" fill="#000"/>
<rect x="619" y="181" width="2" height="1" fill="#000"/>
<rect x="622" y="181" width="1" height="9" fill="#FF0000"/>
<rect x="620" y="181" width="2" height="1" fill="#FF0000"/>
<rect x="623" y="188" width="2" height="1" fill="#FF0000"/>
<rect x="625" y="183" width="1" height="9" fill="#000"/>
<rect x="623" y="188" width="2" height="1" fill="#000"/>
<rect x="626" y="184" width="2" height="1" fill="#000"/>
<rect x="628" y="189" width="1" height="2" fill="#FF0000"/>
<rect x="626" y="189" width="2" height="1" fill="#FF0000"/>
<rect x="629" y="190" width="2" height="1" fill="#FF0000"/>
<rect x="632" y="187" width="1" height="6" fill="#000"/>
<rect x="630" y="190" width="2" height="1" fill="#000"/>
<rect x="633" y="187" width="2" height="1" fill="#000"/>
<rect x="635" y="186" width="1" height="6" fill="#FF0000"/>
<rect x="633" y="187" width="2" height="1" fill="#FF0000"/>
<rect x="636" y="191" width="2" height="1" fill="#FF0000"/>
<rect x="638" y="190" width="1" height="2" fill="#FF0000"/>
<rect x="636" y="191" width="2" height="1" fill="#FF0000"/>
<rect x="639" y="191" width="2" height="1" fill="#FF0000"/>
<rect x="640" y="190" width="1" height="5" fill="#000"/>
<rect x="638" y="191" width="2" height="1" fill="#000"/>
<rect x="641" y="190" width="2" height="1" fill="#000"/>
<rect x="644" y="192" width="1" height="6" fill="#FF0000"/>
<rect x="642" y="192" width="2" height="1" fill="#FF0000"/>
<rect x="645" y="197" width="2" height="1" fill="#FF0000"/>
<rect x="647" y="195" width="1" height="10" fill="#FF0000"/>
<rect x="645" y="197" width="2" height="1" fill="#FF0000"/>
<rect x="648" y="203" width="2" height="1" fill="#FF0000"/>
<rect x="650" y="204" width="1" height="10" fill="#FF0000"/>
<rect x="648" y="204" width="2" height="1" fill="#FF0000"/>
<rect x="651" y="212" width="2" height="1" fill="#FF0000"/>
<rect x="653" y="213" width="1" height="14" fill="#FF0000"/>
<rect x="651" y="213" width="2" height="1" fill="#FF0000"/>
<rect x="654" y="225" width="2" height="1" fill="#FF0000"/>
<rect x="657" y="216" width="1" height="6" fill="#FF0000"/>
<rect x="655" y="221" width="2" height="1" fill="#FF0000"/>
<rect x="658" y="221" width="2" height="1" fill="#FF0000"/>
<rect x="660" y="220" width="1" height="6" fill="#FF0000"/>
<rect x="658" y="221" width="2" height="1" fill="#FF0000"/>
<rect x="661" y="225" width="2" height="1" fill="#FF0000"/>
<rect x="663" y="216" width="1" height="13" fill="#FF0000"/>
<rect x="661" y="225" width="2" height="1" fill="#FF0000"/>
<rect x="664" y="227" width="2" height="1" fill="#FF0000"/>
<rect x="667" y="222" width="1" height="2" fill="#000"/>
<rect x="665" y="223" width="2" height="1" fill="#000"/>
<rect x="668" y="222" width="2" height="1" fill="#000"/>
<rect x="670" y="222" width="1" height="2" fill="#000"/>
<rect x="668" y="222" width="2" height="1" fill="#000"/>
<rect x="671" y="222" width="2" height="1" fill="#000"/>
<rect x="673" y="218" width="1" height="2" fill="#000"/>
<rect x="671" y="219" width="2" height="1" fill="#000"/>
<rect x="674" y="218" width="2" height="1" fill="#000"/>
<rect x="676" y="222" width="1" height="2" fill="#FF0000"/>
<rect x="674" y="222" width="2" height="1" fill="#FF0000"/>
<rect x="677" y="223" width="2" height="1" fill="#FF0000"/>
<rect x="679" y="228" width="1" height="4" fill="#FF0000"/>
<rect x="677" y="228" width="2" height="1" fill="#FF0000"/>
<rect x="680" y="231" width="2" height="1" fill="#FF0000"/>
<rect x="682" y="231" width="1" height="19" fill="#FF0000"/>
<rect x="680" y="231" width="2" height="1" fill="#FF0000"/>
<rect x="683" y="247" width="2" height="1" fill="#FF0000"/>
<rect x="686" y="232" width="1" height="3" fill="#FF0000"/>
<rect x="684" y="234" width="2" height="1" fill="#FF0000"/>
<rect x="687" y="234" width="2" height="1" fill="#FF0000"/>
<rect x="689" y="230" width="1" height="2" fill="#000"/>
<rect x="687" y="231" width="2" height="1" fill="#000"/>
<rect x="690" y="230" width="2" height="1" fill="#000"/>
<rect x="692" y="230" width="1" height="5" fill="#FF0000"/>
<rect x="690" y="230" width="2" height="1" fill="#FF0000"/>
<rect x="693" y="234" width="2" height="1" fill="#FF0000"/>
<rect x="696" y="230" width="1" height="7" fill="#000"/>
<rect x="694" y="234" width="2" height="1" fill="#000"/>
<rect x="697" y="230" width="2" height="1" fill="#000"/>
<rect x="699" y="232" width="1" height="9" fill="#FF0000"/>
<rect x="697" y="232" width="2" height="1" fill="#FF0000"/>
<rect x="700" y="239" width="2" height="1" fill="#FF0000"/>
<rect x="702" y="218" width="1" height="13" fill="#000"/>
<rect x="700" y="230" width="2" height="1" fill="#000"/>
<rect x="703" y="219" width="2" height="1" fill="#000"/>
<rect x="705" y="220" width="1" height="5" fill="#FF0000"/>
<rect x="703" y="220" width="2" height="1" fill="#FF0000"/>
<rect x="706" y="224" width="2" height="1" fill="#FF0000"/>
<rect x="708" y="220" width="1" height="4" fill="#000"/>
<rect x="706" y="223" width="2" height="1" fill="#000"/>
<rect x="709" y="220" width="2" height="1" fill="#000"/>
<rect x="711" y="222" width="1" height="3" fill="#FF0000"/>
<rect x="709" y="222" width="2" height="1" fill="#FF0000"/>
<rect x="712" y="224" width="2" height="1" fill="#FF0000"/>
<rect x="714" y="223" width="1" height="2" fill="#FF0000"/>
<rect x="712" y="224" width="2" height="1" fill="#FF0000"/>
<rect x="715" y="224" width="2" height="1" fill="#FF0000"/>
<rect x="715" y="222" width="1" height="7" fill="#000"/>
<rect x="713" y="224" width="2" height="1" fill="#000"/>
<rect x="716" y="222" width="2" height="1" fill="#000"/>
<rect x="718" y="218" width="1" height="11" fill="#FF0000"/>
<rect x="716" y="222" width="2" height="1" fill="#FF0000"/>
<rect x="719" y="227" width="2" height="1" fill="#FF0000"/>
<rect x="721" y="222" width="1" height="6" fill="#000"/>
<rect x="719" y="227" width="2" height="1" fill="#000"/>
<rect x="722" y="222" width="2" height="1" fill="#000"/>
<rect x="724" y="216" width="1" height="11" fill="#000"/>
<rect x="722" y="222" width="2" height="1" fill="#000"/>
<rect x="725" y="217" width="2" height="1" fill="#000"/>
<rect x="727" y="223" width="1" height="20" fill="#FF0000"/>
<rect x="725" y="223" width="2" height="1" fill="#FF0000"/>
<rect x="728" y="240" width="2" height="1" fill="#FF0000"/>
<rect x="731" y="229" width="1" height="6" fill="#FF0000"/>
<rect x="729" y="234" width="2" height="1" fill="#FF0000"/>
<rect x="732" y="234" width="2" height="1" fill="#FF0000"/>
<rect x="734" y="232" width="1" height="1" fill="#FF0000"/>
<rect x="732" y="232" width="2" height="1" fill="#FF0000"/>
<rect x="735" y="232" width="2" height="1" fill="#FF0000"/>
<rect x="737" y="224" width="1" height="5" fill="#000"/>
<rect x="735" y="228" width="2" height="1" fill="#000"/>
<rect x="738" y="224" width="2" height="1" fill="#000"/>
<rect x="740" y="217" width="1" height="10" fill="#000"/>
<rect x="738" y="224" width="2" height="1" fill="#000"/>
<rect x="741" y="218" width="2" height="1" fill="#000"/>
<rect x="743" y="209" width="1" height="6" fill="#000"/>
<rect x="741" y="214" width="2" height="1" fill="#000"/>
<rect x="744" y="209" width="2" height="1" fill="#000"/>
<rect x="745" y="206" width="1" height="5" fill="#000"/>
<rect x="743" y="209" width="2" height="1" fill="#000"/>
<rect x="746" y="206" width="2" height="1" fill="#000"/>
<rect x="747" y="100" width="1" height="97" fill="#000"/>
<rect x="745" y="195" width="2" height="1" fill="#000"/>
<rect x="748" y="108" width="2" height="1" fill="#000"/>
<polyline points="8.5,229.9 25.5,229.9 32.5,236.5 38.5,246.5 43.5,252.9 47.5,251.5 53.5,248.5 60.5,244.1 64.5,241.5 80.5,240.9 86.5,242.5 94.5,244.9 100.5,241.5 108.5,233.5 120.5,223.5 128.5,212.5 133.5,206.5 140.5,205.1 154.5,204.9 160.5,207.5 168.5,210.9 178.5,210.5 190.5,210.5 195.5,214.9 206.5,218.5 216.5,226.9 228.5,232.1 240.5,236.5 250.5,240.1 260.5,241.5 270.5,244.5 278.5,248.9 284.5,250.1 300.5,250.5 306.5,248.5 310.5,244.5 314.5,238.5 320.5,228.5 330.5,216.5 340.5,205.5 348.5,198.5 353.5,180.5 360.5,167.5 366.5,161.5 374.5,156.5 380.5,152.9 390.5,153.1 400.5,157.5 410.5,161.5 420.5,164.1 432.5,162.5 438.5,152.5 444.5,145.5 452.5,141.5 460.5,140.5 470.5,142.1 480.5,143.5 488.5,140.5 497.5,138.9 502.5,143.5 510.5,147.5 520.5,150.5 536.5,151.5 546.5,153.5 554.5,161.5 560.5,160.1 570.5,162.5 580.5,166.5 590.5,170.5 598.5,178.5 606.5,185.5 612.5,188.9 618.5,186.5 624.5,181.5 630.5,178.1 638.5,175.5 648.5,174.5 658.5,174.1 666.5,171.1 675.5,170.5 680.5,172.5 686.5,178.5 692.5,184.5 698.5,192.5 704.5,202.5 709.5,209.5 714.5,214.1 720.5,216.1 730.5,216.1 738.5,215.5 742.5,212.0 745.0,206.5 746.0,198.5 747.0,185.5 748.0,166.5" fill="none" stroke="#800000" stroke-width="1"/>
<polyline points="9.5,229.9 26.5,229.9 33.5,236.5 39.5,246.5 44.5,252.9 48.5,251.5 54.5,248.5 61.5,244.1 65.5,241.5 81.5,240.9 87.5,242.5 95.5,244.9 101.5,241.5 109.5,233.5 121.5,223.5 129.5,212.5 134.5,206.5 141.5,205.1 155.5,204.9 161.5,207.5 169.5,210.9 179.5,210.5 191.5,210.5 196.5,214.9 207.5,218.5 217.5,226.9 229.5,232.1 241.5,236.5 251.5,240.1 261.5,241.5 271.5,244.5 279.5,248.9 285.5,250.1 301.5,250.5 307.5,248.5 311.5,244.5 315.5,238.5 321.5,228.5 331.5,216.5 341.5,205.5 349.5,198.5 354.5,180.5 361.5,167.5 367.5,161.5 375.5,156.5 381.5,152.9 391.5,153.1 401.5,157.5 411.5,161.5 421.5,164.1 433.5,162.5 439.5,152.5 445.5,145.5 453.5,141.5 461.5,140.5 471.5,142.1 481.5,143.5 489.5,140.5 498.5,138.9 503.5,143.5 511.5,147.5 521.5,150.5 537.5,151.5 547.5,153.5 555.5,161.5 561.5,160.1 571.5,162.5 581.5,166.5 591.5,170.5 599.5,178.5 607.5,185.5 613.5,188.9 619.5,186.5 625.5,181.5 631.5,178.1 639.5,175.5 649.5,174.5 659.5,174.1 667.5,171.1 676.5,170.5 681.5,172.5 687.5,178.5 693.5,184.5 699.5,192.5 705.5,202.5 710.5,209.5 715.5,214.1 721.5,216.1 731.5,216.1 739.5,215.5 743.5,212.0 746.0,206.5 747.0,198.5 748.0,185.5 749.0,166.5" fill="none" stroke="#800000" stroke-width="1"/>
<polyline points="8.5,287.9 14.5,286.5 20.5,289.5 25.5,293.5 30.5,292.9 36.5,289.5 43.5,286.1 52.5,288.5 64.5,288.5 72.5,286.1 82.5,283.5 88.5,276.5 92.5,273.5 100.5,274.1 106.5,272.5 114.5,274.1 120.5,274.5 128.5,279.1 134.5,279.1 140.5,274.5 148.5,264.5 156.5,253.5 160.5,249.5 168.5,246.5 176.5,247.5 184.5,250.5 192.5,254.5 204.5,257.5 218.5,259.5 228.5,262.9 244.5,263.5 266.5,262.9 272.5,264.5 284.5,264.1 290.5,264.9 306.5,266.1 310.5,269.5 313.5,274.1 322.5,276.5 330.5,278.9 338.5,276.5 344.5,272.9 348.5,272.1 351.5,275.5 358.5,272.5 364.5,264.5 372.5,250.5 378.5,247.5 386.5,234.5 394.5,222.5 404.5,212.5 410.5,208.5 416.5,210.5 420.5,214.5 432.5,214.9 438.5,221.5 450.5,222.5 460.5,222.1 470.5,218.5 478.5,214.5 482.5,207.5 488.5,204.5 500.5,202.5 508.5,200.5 520.5,203.5 530.5,201.5 538.5,196.5 548.5,196.5 556.5,197.5 562.5,207.5 568.5,216.5 576.5,221.5 584.5,225.5 590.5,229.5 596.5,231.5 604.5,229.5 614.5,228.9 622.5,232.1 630.5,229.5 640.5,225.5 650.5,224.1 658.5,224.9 666.5,231.5 674.5,235.5 680.5,238.5 686.5,243.5 693.5,246.9 700.5,245.0 707.5,240.0 713.5,236.0 720.5,235.7 730.5,236.0 738.5,237.0 743.5,238.5 745.5,242.5 746.5,250.5 747.5,260.5 748.5,270.5" fill="none" stroke="#800000" stroke-width="1"/>
<polyline points="9.5,287.9 15.5,286.5 21.5,289.5 26.5,293.5 31.5,292.9 37.5,289.5 44.5,286.1 53.5,288.5 65.5,288.5 73.5,286.1 83.5,283.5 89.5,276.5 93.5,273.5 101.5,274.1 107.5,272.5 115.5,274.1 121.5,274.5 129.5,279.1 135.5,279.1 141.5,274.5 149.5,264.5 157.5,253.5 161.5,249.5 169.5,246.5 177.5,247.5 185.5,250.5 193.5,254.5 205.5,257.5 219.5,259.5 229.5,262.9 245.5,263.5 267.5,262.9 273.5,264.5 285.5,264.1 291.5,264.9 307.5,266.1 311.5,269.5 314.5,274.1 323.5,276.5 331.5,278.9 339.5,276.5 345.5,272.9 349.5,272.1 352.5,275.5 359.5,272.5 365.5,264.5 373.5,250.5 379.5,247.5 387.5,234.5 395.5,222.5 405.5,212.5 411.5,208.5 417.5,210.5 421.5,214.5 433.5,214.9 439.5,221.5 451.5,222.5 461.5,222.1 471.5,218.5 479.5,214.5 483.5,207.5 489.5,204.5 501.5,202.5 509.5,200.5 521.5,203.5 531.5,201.5 539.5,196.5 549.5,196.5 557.5,197.5 563.5,207.5 569.5,216.5 577.5,221.5 585.5,225.5 591.5,229.5 597.5,231.5 605.5,229.5 615.5,228.9 623.5,232.1 631.5,229.5 641.5,225.5 651.5,224.1 659.5,224.9 667.5,231.5 675.5,235.5 681.5,238.5 687.5,243.5 694.5,246.9 701.5,245.0 708.5,240.0 714.5,236.0 721.5,235.7 731.5,236.0 739.5,237.0 744.5,238.5 746.5,242.5 747.5,250.5 748.5,260.5 749.5,270.5" fill="none" stroke="#800000" stroke-width="1"/>
<rect x="5.5" y="21.5" width="745" height="348" fill="none" stroke="#000" stroke-width="1"/>
<polygon points="690,16.5 694.5,7.5 699,16.5" fill="#008000" shape-rendering="geometricPrecision"/>
<rect x="60" y="406" width="1" height="79" fill="#C2C484"/>
<rect x="89" y="406" width="1" height="79" fill="#C2C484"/>
<rect x="147" y="406" width="1" height="79" fill="#C2C484"/>
<rect x="215" y="406" width="1" height="79" fill="#C2C484"/>
<rect x="282" y="406" width="1" height="79" fill="#C2C484"/>
<rect x="344" y="406" width="1" height="79" fill="#C2C484"/>
<rect x="411" y="406" width="1" height="79" fill="#C2C484"/>
<rect x="479" y="406" width="1" height="79" fill="#C2C484"/>
<rect x="544" y="406" width="1" height="79" fill="#C2C484"/>
<rect x="608" y="406" width="1" height="79" fill="#C2C484"/>
<rect x="669" y="406" width="1" height="79" fill="#C2C484"/>
<rect x="727" y="406" width="1" height="79" fill="#C2C484"/>
<rect x="5" y="416" width="746" height="1" fill="#C2C484"/>
<rect x="5" y="429" width="746" height="1" fill="#C2C484"/>
<rect x="5" y="471" width="746" height="1" fill="#C2C484"/>
<rect x="5" y="450" width="746" height="1" fill="#0000FF"/>
<polyline points="8.5,471.3 15.5,468.0 19.5,469.3 23.0,473.0 28.0,473.0 30.5,470.5 33.0,460.5 38.0,454.3 44.5,453.0 46.5,449.3 49.5,438.0 54.5,431.0 59.5,430.0 63.0,425.0 66.0,425.5 69.5,430.5 75.5,439.3 80.5,446.5 84.5,441.5 89.5,441.0 93.0,445.5 96.5,444.3 100.5,439.3 105.5,434.3 109.5,428.0 113.0,430.0 116.5,430.5 120.0,435.0 123.0,430.5 128.0,424.3 131.5,423.0 135.5,425.5 140.5,435.0 145.5,436.0 149.5,439.3 154.5,443.0 158.0,449.3 161.5,460.5 165.5,465.0 173.0,467.5 176.5,471.5 180.5,476.5 184.5,471.5 188.0,472.3 190.5,475.0 193.5,469.3 195.5,474.3 200.5,472.5 205.5,470.5 209.5,465.5 212.5,461.0 216.5,464.3 221.5,471.5 226.5,476.5 230.5,477.5 234.5,475.0 236.0,476.3 240.5,468.5 244.5,469.3 248.0,473.0 251.0,471.5 254.5,475.0 258.0,473.0 260.5,463.0 263.5,461.5 268.0,466.5 273.0,475.5 277.5,480.5 280.5,476.5 283.0,467.5 286.5,466.0 290.5,463.0 294.5,459.3 299.5,458.5 303.0,451.5 305.5,441.5 309.5,439.3 312.5,433.0 316.5,435.5 321.5,431.5 326.5,428.5 333.0,426.5 340.5,423.5 344.5,424.5 348.5,422.5 353.0,429.3 356.5,435.5 363.0,439.3 370.5,446.5 376.5,447.5 381.5,446.5 385.5,451.5 390.5,454.3 394.5,460.5 398.0,466.5 403.0,471.5 409.5,471.0 414.5,474.3 418.0,476.5 420.5,474.3 423.0,459.3 426.0,448.0 430.5,441.5 434.5,435.5 438.0,428.0 441.5,430.0 446.0,433.0 450.5,438.0 455.5,440.5 460.5,446.0 465.5,453.0 469.5,461.5 473.0,471.5 476.5,475.0 479.5,471.5 481.5,460.5 485.0,451.5 488.0,446.5 491.0,446.3 493.5,449.3 496.5,445.5 500.5,444.3 504.5,446.5 508.0,448.5 511.5,453.0 515.5,458.5 520.5,460.5 525.5,465.0 530.5,468.5 534.5,466.0 538.0,472.5 545.5,472.5 549.5,466.5 553.0,461.5 556.5,463.0 560.5,469.3 565.5,475.0 570.5,476.5 574.5,474.3 578.0,469.3 581.5,467.3 585.5,468.0 589.5,471.5 593.5,475.0 596.5,471.5 600.5,467.5 604.5,464.3 606.5,458.0 610.5,444.3 614.5,434.3 618.0,428.0 621.5,426.5 626.5,426.3 631.5,427.5 636.5,431.5 641.5,436.5 645.5,443.0 648.5,451.5 651.0,459.3 655.5,466.0 660.5,474.3 665.5,479.3 669.5,479.3 673.0,476.5 679.5,477.5 683.0,475.0 688.0,470.5 693.0,468.0 698.0,461.5 701.5,454.3 705.5,445.5 710.5,436.5 715.5,431.3 720.5,430.5 725.0,425.5 728.0,428.5 730.5,434.3 733.0,439.3 735.5,439.3 738.0,434.3 741.5,427.5 745.5,424.3 749.5,423.0" fill="none" stroke="#000" stroke-width="1"/>
<polyline points="9.5,471.3 16.5,468.0 20.5,469.3 24.0,473.0 29.0,473.0 31.5,470.5 34.0,460.5 39.0,454.3 45.5,453.0 47.5,449.3 50.5,438.0 55.5,431.0 60.5,430.0 64.0,425.0 67.0,425.5 70.5,430.5 76.5,439.3 81.5,446.5 85.5,441.5 90.5,441.0 94.0,445.5 97.5,444.3 101.5,439.3 106.5,434.3 110.5,428.0 114.0,430.0 117.5,430.5 121.0,435.0 124.0,430.5 129.0,424.3 132.5,423.0 136.5,425.5 141.5,435.0 146.5,436.0 150.5,439.3 155.5,443.0 159.0,449.3 162.5,460.5 166.5,465.0 174.0,467.5 177.5,471.5 181.5,476.5 185.5,471.5 189.0,472.3 191.5,475.0 194.5,469.3 196.5,474.3 201.5,472.5 206.5,470.5 210.5,465.5 213.5,461.0 217.5,464.3 222.5,471.5 227.5,476.5 231.5,477.5 235.5,475.0 237.0,476.3 241.5,468.5 245.5,469.3 249.0,473.0 252.0,471.5 255.5,475.0 259.0,473.0 261.5,463.0 264.5,461.5 269.0,466.5 274.0,475.5 278.5,480.5 281.5,476.5 284.0,467.5 287.5,466.0 291.5,463.0 295.5,459.3 300.5,458.5 304.0,451.5 306.5,441.5 310.5,439.3 313.5,433.0 317.5,435.5 322.5,431.5 327.5,428.5 334.0,426.5 341.5,423.5 345.5,424.5 349.5,422.5 354.0,429.3 357.5,435.5 364.0,439.3 371.5,446.5 377.5,447.5 382.5,446.5 386.5,451.5 391.5,454.3 395.5,460.5 399.0,466.5 404.0,471.5 410.5,471.0 415.5,474.3 419.0,476.5 421.5,474.3 424.0,459.3 427.0,448.0 431.5,441.5 435.5,435.5 439.0,428.0 442.5,430.0 447.0,433.0 451.5,438.0 456.5,440.5 461.5,446.0 466.5,453.0 470.5,461.5 474.0,471.5 477.5,475.0 480.5,471.5 482.5,460.5 486.0,451.5 489.0,446.5 492.0,446.3 494.5,449.3 497.5,445.5 501.5,444.3 505.5,446.5 509.0,448.5 512.5,453.0 516.5,458.5 521.5,460.5 526.5,465.0 531.5,468.5 535.5,466.0 539.0,472.5 546.5,472.5 550.5,466.5 554.0,461.5 557.5,463.0 561.5,469.3 566.5,475.0 571.5,476.5 575.5,474.3 579.0,469.3 582.5,467.3 586.5,468.0 590.5,471.5 594.5,475.0 597.5,471.5 601.5,467.5 605.5,464.3 607.5,458.0 611.5,444.3 615.5,434.3 619.0,428.0 622.5,426.5 627.5,426.3 632.5,427.5 637.5,431.5 642.5,436.5 646.5,443.0 649.5,451.5 652.0,459.3 656.5,466.0 661.5,474.3 666.5,479.3 670.5,479.3 674.0,476.5 680.5,477.5 684.0,475.0 689.0,470.5 694.0,468.0 699.0,461.5 702.5,454.3 706.5,445.5 711.5,436.5 716.5,431.3 721.5,430.5 726.0,425.5 729.0,428.5 731.5,434.3 734.0,439.3 736.5,439.3 739.0,434.3 742.5,427.5 746.5,424.3 750.5,423.0" fill="none" stroke="#000" stroke-width="1"/>
<polyline points="8.5,472.0 20.5,470.5 30.5,471.5 38.0,464.3 45.5,454.3 53.0,444.3 60.5,435.5 66.5,428.5 74.5,430.0 80.5,438.0 85.5,441.5 93.0,443.5 100.5,442.5 106.5,438.5 113.0,431.5 120.5,430.5 128.0,430.0 135.5,425.5 140.5,428.5 148.0,432.5 155.5,439.3 160.5,443.5 165.5,451.5 170.5,460.5 178.0,468.0 184.5,471.3 193.0,473.0 200.5,473.0 208.0,470.5 215.5,466.5 220.5,466.0 226.5,471.0 234.5,475.5 240.5,473.5 248.0,471.5 256.5,473.0 263.0,470.0 269.5,467.5 275.5,469.3 281.5,475.0 288.0,473.5 293.0,468.0 300.5,460.5 306.5,454.3 313.0,444.3 319.5,436.5 326.5,431.5 334.5,428.0 343.0,425.0 350.5,423.5 358.0,428.5 365.5,436.5 373.0,443.0 380.5,446.0 390.5,450.5 398.0,459.3 405.5,467.5 413.0,471.5 420.5,473.5 426.5,465.5 433.0,453.0 439.5,438.0 445.5,432.5 451.5,432.5 458.0,436.5 465.5,445.5 471.5,455.5 478.0,466.0 481.5,469.3 486.5,464.3 493.0,454.3 499.5,448.5 505.5,446.5 511.5,447.5 518.0,454.3 525.5,460.5 533.0,465.0 540.5,468.5 548.0,471.0 555.5,468.0 561.5,466.0 568.0,470.5 574.5,474.3 580.5,474.3 585.5,470.5 593.0,470.0 598.0,471.0 604.5,470.5 608.0,466.5 613.0,455.5 619.5,440.5 625.5,430.0 633.0,426.5 640.5,430.0 648.0,438.0 654.5,451.5 660.5,463.0 666.5,473.0 673.0,477.5 680.5,478.0 688.0,475.0 695.5,471.5 701.5,466.0 708.0,455.5 714.5,444.3 720.5,435.5 726.5,430.0 733.0,431.5 739.5,433.5 745.5,432.5 749.5,429.3" fill="none" stroke="#FF0000" stroke-width="1"/>
<polyline points="9.5,472.0 21.5,470.5 31.5,471.5 39.0,464.3 46.5,454.3 54.0,444.3 61.5,435.5 67.5,428.5 75.5,430.0 81.5,438.0 86.5,441.5 94.0,443.5 101.5,442.5 107.5,438.5 114.0,431.5 121.5,430.5 129.0,430.0 136.5,425.5 141.5,428.5 149.0,432.5 156.5,439.3 161.5,443.5 166.5,451.5 171.5,460.5 179.0,468.0 185.5,471.3 194.0,473.0 201.5,473.0 209.0,470.5 216.5,466.5 221.5,466.0 227.5,471.0 235.5,475.5 241.5,473.5 249.0,471.5 257.5,473.0 264.0,470.0 270.5,467.5 276.5,469.3 282.5,475.0 289.0,473.5 294.0,468.0 301.5,460.5 307.5,454.3 314.0,444.3 320.5,436.5 327.5,431.5 335.5,428.0 344.0,425.0 351.5,423.5 359.0,428.5 366.5,436.5 374.0,443.0 381.5,446.0 391.5,450.5 399.0,459.3 406.5,467.5 414.0,471.5 421.5,473.5 427.5,465.5 434.0,453.0 440.5,438.0 446.5,432.5 452.5,432.5 459.0,436.5 466.5,445.5 472.5,455.5 479.0,466.0 482.5,469.3 487.5,464.3 494.0,454.3 500.5,448.5 506.5,446.5 512.5,447.5 519.0,454.3 526.5,460.5 534.0,465.0 541.5,468.5 549.0,471.0 556.5,468.0 562.5,466.0 569.0,470.5 575.5,474.3 581.5,474.3 586.5,470.5 594.0,470.0 599.0,471.0 605.5,470.5 609.0,466.5 614.0,455.5 620.5,440.5 626.5,430.0 634.0,426.5 641.5,430.0 649.0,438.0 655.5,451.5 661.5,463.0 667.5,473.0 674.0,477.5 681.5,478.0 689.0,475.0 696.5,471.5 702.5,466.0 709.0,455.5 715.5,444.3 721.5,435.5 727.5,430.0 734.0,431.5 740.5,433.5 746.5,432.5 750.5,429.3" fill="none" stroke="#FF0000" stroke-width="1"/>
<rect x="5.5" y="406.5" width="745" height="79" fill="none" stroke="#000" stroke-width="1"/>
<rect x="60" y="506" width="1" height="79" fill="#C2C484"/>
<rect x="89" y="506" width="1" height="79" fill="#C2C484"/>
<rect x="147" y="506" width="1" height="79" fill="#C2C484"/>
<rect x="215" y="506" width="1" height="79" fill="#C2C484"/>
<rect x="282" y="506" width="1" height="79" fill="#C2C484"/>
<rect x="344" y="506" width="1" height="79" fill="#C2C484"/>
<rect x="411" y="506" width="1" height="79" fill="#C2C484"/>
<rect x="479" y="506" width="1" height="79" fill="#C2C484"/>
<rect x="544" y="506" width="1" height="79" fill="#C2C484"/>
<rect x="608" y="506" width="1" height="79" fill="#C2C484"/>
<rect x="669" y="506" width="1" height="79" fill="#C2C484"/>
<rect x="727" y="506" width="1" height="79" fill="#C2C484"/>
<rect x="5" y="516" width="746" height="1" fill="#C2C484"/>
<rect x="5" y="529" width="746" height="1" fill="#C2C484"/>
<rect x="5" y="571" width="746" height="1" fill="#C2C484"/>
<rect x="5" y="550" width="746" height="1" fill="#0000FF"/>
<clipPath id="cw"><rect x="5" y="506" width="746" height="80"/></clipPath>
<g clip-path="url(#cw)">
<polyline points="8.5,570.0 12.5,568.0 15.0,558.5 17.5,555.0 20.0,560.5 22.5,576.5 26.5,573.0 30.0,570.5 31.5,531.5 33.5,538.0 35.5,548.0 38.0,546.5 41.5,556.0 45.5,546.5 48.0,519.5 50.5,516.5 54.5,524.5 58.5,531.0 61.5,516.5 64.5,518.0 66.5,533.0 70.5,546.5 73.5,554.5 76.5,551.0 78.5,554.5 80.5,565.0 83.5,538.0 86.5,541.5 90.0,543.0 93.5,556.0 96.5,541.5 100.5,528.0 106.5,526.5 109.5,516.5 112.5,536.5 115.5,533.0 120.0,550.5 123.0,523.0 125.5,516.0 129.5,516.0 133.0,524.5 135.5,535.5 138.5,556.0 141.0,553.0 145.0,536.5 148.5,552.5 151.5,540.5 155.5,556.5 160.5,580.5 163.0,586.5 167.5,561.5 170.5,566.0 174.5,568.0 180.5,586.5 183.5,556.5 186.5,566.5 190.0,586.5 193.0,553.0 196.0,586.5 200.0,570.5 203.5,568.0 206.5,558.0 209.5,528.5 212.5,528.5 215.0,550.5 217.5,573.0 220.5,580.0 229.5,580.5 232.5,567.5 235.0,578.5 238.5,561.0 241.5,561.5 245.0,571.5 248.5,579.5 251.5,550.5 255.0,586.5 258.5,548.0 261.5,540.5 265.0,558.0 270.5,586.5 276.5,586.5 280.0,573.0 283.5,540.5 287.5,561.5 290.5,559.5 293.5,543.0 298.5,556.0 303.0,543.0 306.0,516.5 309.5,538.0 312.5,516.5 316.5,543.5 320.5,531.5 326.5,524.5 331.5,524.5 335.5,521.5 341.5,521.0 345.5,530.5 348.5,516.5 351.5,538.0 354.5,552.5 358.5,546.5 365.5,548.0 370.5,557.5 374.5,555.0 376.5,548.5 380.5,546.0 384.5,561.5 388.0,571.5 390.5,573.0 393.5,580.5 397.5,579.5 400.5,574.5 403.5,567.5 406.0,570.0 409.5,565.5 412.5,580.0 416.0,583.0 419.5,573.0 422.5,535.5 425.5,516.5 429.5,530.5 432.5,536.0 435.5,518.5 438.5,516.5 441.5,534.5 446.0,536.5 451.0,544.5 454.5,538.5 458.0,554.5 461.5,573.0 465.5,579.5 469.5,581.5 472.5,586.5 475.0,585.0 478.5,570.5 481.5,543.0 484.5,530.0 487.5,529.5 490.5,540.5 493.5,556.0 496.5,540.5 500.5,540.5 504.5,548.0 506.5,555.5 509.5,550.5 513.0,566.0 516.5,573.5 519.5,571.5 523.5,575.5 528.0,570.5 531.5,568.0 535.0,555.5 538.5,585.0 541.5,569.5 545.0,571.5 548.5,555.5 551.5,543.5 555.5,559.5 559.5,573.0 564.5,581.0 569.5,578.0 573.5,565.0 576.5,571.5 580.5,553.5 584.5,565.5 586.5,568.0 590.5,581.5 594.5,563.0 596.5,546.5 599.5,543.0 603.0,553.0 608.0,535.5 611.5,521.5 615.5,516.5 619.5,516.5 622.5,530.5 625.5,522.5 629.5,532.5 632.5,528.0 636.0,540.5 639.5,549.5 641.5,546.0 645.0,551.5 647.5,570.5 650.0,586.5 654.5,573.5 658.0,578.0 663.5,586.5 669.5,578.5 674.5,570.0 680.5,580.5 683.5,566.0 686.5,562.5 690.0,551.5 693.0,551.5 696.5,546.0 699.5,553.0 703.0,525.5 706.0,527.5 709.5,520.0 712.5,524.5 716.5,525.5 721.5,532.5 725.5,519.5 729.5,540.5 732.5,560.5 735.5,543.0 738.5,518.0 741.5,520.0 745.0,516.5 748.5,520.5" fill="none" stroke="#000" stroke-width="1"/>
<polyline points="9.5,570.0 13.5,568.0 16.0,558.5 18.5,555.0 21.0,560.5 23.5,576.5 27.5,573.0 31.0,570.5 32.5,531.5 34.5,538.0 36.5,548.0 39.0,546.5 42.5,556.0 46.5,546.5 49.0,519.5 51.5,516.5 55.5,524.5 59.5,531.0 62.5,516.5 65.5,518.0 67.5,533.0 71.5,546.5 74.5,554.5 77.5,551.0 79.5,554.5 81.5,565.0 84.5,538.0 87.5,541.5 91.0,543.0 94.5,556.0 97.5,541.5 101.5,528.0 107.5,526.5 110.5,516.5 113.5,536.5 116.5,533.0 121.0,550.5 124.0,523.0 126.5,516.0 130.5,516.0 134.0,524.5 136.5,535.5 139.5,556.0 142.0,553.0 146.0,536.5 149.5,552.5 152.5,540.5 156.5,556.5 161.5,580.5 164.0,586.5 168.5,561.5 171.5,566.0 175.5,568.0 181.5,586.5 184.5,556.5 187.5,566.5 191.0,586.5 194.0,553.0 197.0,586.5 201.0,570.5 204.5,568.0 207.5,558.0 210.5,528.5 213.5,528.5 216.0,550.5 218.5,573.0 221.5,580.0 230.5,580.5 233.5,567.5 236.0,578.5 239.5,561.0 242.5,561.5 246.0,571.5 249.5,579.5 252.5,550.5 256.0,586.5 259.5,548.0 262.5,540.5 266.0,558.0 271.5,586.5 277.5,586.5 281.0,573.0 284.5,540.5 288.5,561.5 291.5,559.5 294.5,543.0 299.5,556.0 304.0,543.0 307.0,516.5 310.5,538.0 313.5,516.5 317.5,543.5 321.5,531.5 327.5,524.5 332.5,524.5 336.5,521.5 342.5,521.0 346.5,530.5 349.5,516.5 352.5,538.0 355.5,552.5 359.5,546.5 366.5,548.0 371.5,557.5 375.5,555.0 377.5,548.5 381.5,546.0 385.5,561.5 389.0,571.5 391.5,573.0 394.5,580.5 398.5,579.5 401.5,574.5 404.5,567.5 407.0,570.0 410.5,565.5 413.5,580.0 417.0,583.0 420.5,573.0 423.5,535.5 426.5,516.5 430.5,530.5 433.5,536.0 436.5,518.5 439.5,516.5 442.5,534.5 447.0,536.5 452.0,544.5 455.5,538.5 459.0,554.5 462.5,573.0 466.5,579.5 470.5,581.5 473.5,586.5 476.0,585.0 479.5,570.5 482.5,543.0 485.5,530.0 488.5,529.5 491.5,540.5 494.5,556.0 497.5,540.5 501.5,540.5 505.5,548.0 507.5,555.5 510.5,550.5 514.0,566.0 517.5,573.5 520.5,571.5 524.5,575.5 529.0,570.5 532.5,568.0 536.0,555.5 539.5,585.0 542.5,569.5 546.0,571.5 549.5,555.5 552.5,543.5 556.5,559.5 560.5,573.0 565.5,581.0 570.5,578.0 574.5,565.0 577.5,571.5 581.5,553.5 585.5,565.5 587.5,568.0 591.5,581.5 595.5,563.0 597.5,546.5 600.5,543.0 604.0,553.0 609.0,535.5 612.5,521.5 616.5,516.5 620.5,516.5 623.5,530.5 626.5,522.5 630.5,532.5 633.5,528.0 637.0,540.5 640.5,549.5 642.5,546.0 646.0,551.5 648.5,570.5 651.0,586.5 655.5,573.5 659.0,578.0 664.5,586.5 670.5,578.5 675.5,570.0 681.5,580.5 684.5,566.0 687.5,562.5 691.0,551.5 694.0,551.5 697.5,546.0 700.5,553.0 704.0,525.5 707.0,527.5 710.5,520.0 713.5,524.5 717.5,525.5 722.5,532.5 726.5,519.5 730.5,540.5 733.5,560.5 736.5,543.0 739.5,518.0 742.5,520.0 746.0,516.5 749.5,520.5" fill="none" stroke="#000" stroke-width="1"/>
</g>
<rect x="5.5" y="506.5" width="745" height="79" fill="none" stroke="#000" stroke-width="1"/>
<rect x="60" y="606" width="1" height="79" fill="#C2C484"/>
<rect x="89" y="606" width="1" height="79" fill="#C2C484"/>
<rect x="147" y="606" width="1" height="79" fill="#C2C484"/>
<rect x="215" y="606" width="1" height="79" fill="#C2C484"/>
<rect x="282" y="606" width="1" height="79" fill="#C2C484"/>
<rect x="344" y="606" width="1" height="79" fill="#C2C484"/>
<rect x="411" y="606" width="1" height="79" fill="#C2C484"/>
<rect x="479" y="606" width="1" height="79" fill="#C2C484"/>
<rect x="544" y="606" width="1" height="79" fill="#C2C484"/>
<rect x="608" y="606" width="1" height="79" fill="#C2C484"/>
<rect x="669" y="606" width="1" height="79" fill="#C2C484"/>
<rect x="727" y="606" width="1" height="79" fill="#C2C484"/>
<rect x="5" y="608" width="746" height="1" fill="#C2C484"/>
<rect x="5" y="623" width="746" height="1" fill="#C2C484"/>
<rect x="5" y="638" width="746" height="1" fill="#C2C484"/>
<rect x="5" y="668" width="746" height="1" fill="#C2C484"/>
<rect x="5" y="683" width="746" height="1" fill="#C2C484"/>
<rect x="6" y="653" width="1" height="1" fill="#0000FF"/>
<rect x="8" y="653" width="1" height="1" fill="#0000FF"/>
<rect x="10" y="653" width="1" height="1" fill="#0000FF"/>
<rect x="12" y="653" width="1" height="1" fill="#0000FF"/>
<rect x="14" y="653" width="1" height="1" fill="#0000FF"/>
<rect x="16" y="653" width="1" height="1" fill="#0000FF"/>
<rect x="18" y="653" width="1" height="1" fill="#0000FF"/>
<rect x="20" y="653" width="1" height="1" fill="#0000FF"/>
<rect x="22" y="653" width="1" height="1" fill="#0000FF"/>
<rect x="24" y="653" width="1" height="1" fill="#0000FF"/>
<rect x="26" y="653" width="1" height="1" fill="#0000FF"/>
<rect x="28" y="653" width="1" height="1" fill="#0000FF"/>
<rect x="30" y="653" width="1" height="1" fill="#0000FF"/>
<rect x="32" y="653" width="1" height="1" fill="#0000FF"/>
<rect x="34" y="653" width="1" height="1" fill="#0000FF"/>
<rect x="36" y="653" width="1" height="1" fill="#0000FF"/>
<rect x="38" y="653" width="1" height="1" fill="#0000FF"/>
<rect x="40" y="653" width="1" height="1" fill="#0000FF"/>
<rect x="42" y="653" width="1" height="1" fill="#0000FF"/>
<rect x="44" y="653" width="1" height="1" fill="#0000FF"/>
<rect x="46" y="653" width="1" height="1" fill="#0000FF"/>
<rect x="48" y="653" width="1" height="1" fill="#0000FF"/>
<rect x="50" y="653" width="1" height="1" fill="#0000FF"/>
<rect x="52" y="653" width="1" height="1" fill="#0000FF"/>
<rect x="54" y="653" width="1" height="1" fill="#0000FF"/>
<rect x="56" y="653" width="1" height="1" fill="#0000FF"/>
<rect x="58" y="653" width="1" height="1" fill="#0000FF"/>
<rect x="60" y="653" width="1" height="1" fill="#0000FF"/>
<rect x="62" y="653" width="1" height="1" fill="#0000FF"/>
<rect x="64" y="653" width="1" height="1" fill="#0000FF"/>
<rect x="66" y="653" width="1" height="1" fill="#0000FF"/>
<rect x="68" y="653" width="1" height="1" fill="#0000FF"/>
<rect x="70" y="653" width="1" height="1" fill="#0000FF"/>
<rect x="72" y="653" width="1" height="1" fill="#0000FF"/>
<rect x="74" y="653" width="1" height="1" fill="#0000FF"/>
<rect x="76" y="653" width="1" height="1" fill="#0000FF"/>
<rect x="78" y="653" width="1" height="1" fill="#0000FF"/>
<rect x="80" y="653" width="1" height="1" fill="#0000FF"/>
<rect x="82" y="653" width="1" height="1" fill="#0000FF"/>
<rect x="84" y="653" width="1" height="1" fill="#0000FF"/>
<rect x="86" y="653" width="1" height="1" fill="#0000FF"/>
<rect x="88" y="653" width="1" height="1" fill="#0000FF"/>
<rect x="90" y="653" width="1" height="1" fill="#0000FF"/>
<rect x="92" y="653" width="1" height="1" fill="#0000FF"/>
<rect x="94" y="653" width="1" height="1" fill="#0000FF"/>
<rect x="96" y="653" width="1" height="1" fill="#0000FF"/>
<rect x="98" y="653" width="1" height="1" fill="#0000FF"/>
<rect x="100" y="653" width="1" height="1" fill="#0000FF"/>
<rect x="102" y="653" width="1" height="1" fill="#0000FF"/>
<rect x="104" y="653" width="1" height="1" fill="#0000FF"/>
<rect x="106" y="653" width="1" height="1" fill="#0000FF"/>
<rect x="108" y="653" width="1" height="1" fill="#0000FF"/>
<rect x="110" y="653" width="1" height="1" fill="#0000FF"/>
<rect x="112" y="653" width="1" height="1" fill="#0000FF"/>
<rect x="114" y="653" width="1" height="1" fill="#0000FF"/>
<rect x="116" y="653" width="1" height="1" fill="#0000FF"/>
<rect x="118" y="653" width="1" height="1" fill="#0000FF"/>
<rect x="120" y="653" width="1" height="1" fill="#0000FF"/>
<rect x="122" y="653" width="1" height="1" fill="#0000FF"/>
<rect x="124" y="653" width="1" height="1" fill="#0000FF"/>
<rect x="126" y="653" width="1" height="1" fill="#0000FF"/>
<rect x="128" y="653" width="1" height="1" fill="#0000FF"/>
<rect x="130" y="653" width="1" height="1" fill="#0000FF"/>
<rect x="132" y="653" width="1" height="1" fill="#0000FF"/>
<rect x="134" y="653" width="1" height="1" fill="#0000FF"/>
<rect x="136" y="653" width="1" height="1" fill="#0000FF"/>
<rect x="138" y="653" width="1" height="1" fill="#0000FF"/>
<rect x="140" y="653" width="1" height="1" fill="#0000FF"/>
<rect x="142" y="653" width="1" height="1" fill="#0000FF"/>
<rect x="144" y="653" width="1" height="1" fill="#0000FF"/>
<rect x="146" y="653" width="1" height="1" fill="#0000FF"/>
<rect x="148" y="653" width="1" height="1" fill="#0000FF"/>
<rect x="150" y="653" width="1" height="1" fill="#0000FF"/>
<rect x="152" y="653" width="1" height="1" fill="#0000FF"/>
<rect x="154" y="653" width="1" height="1" fill="#0000FF"/>
<rect x="156" y="653" width="1" height="1" fill="#0000FF"/>
<rect x="158" y="653" width="1" height="1" fill="#0000FF"/>
<rect x="160" y="653" width="1" height="1" fill="#0000FF"/>
<rect x="162" y="653" width="1" height="1" fill="#0000FF"/>
<rect x="164" y="653" width="1" height="1" fill="#0000FF"/>
<rect x="166" y="653" width="1" height="1" fill="#0000FF"/>
<rect x="168" y="653" width="1" height="1" fill="#0000FF"/>
<rect x="170" y="653" width="1" height="1" fill="#0000FF"/>
<rect x="172" y="653" width="1" height="1" fill="#0000FF"/>
<rect x="174" y="653" width="1" height="1" fill="#0000FF"/>
<rect x="176" y="653" width="1" height="1" fill="#0000FF"/>
<rect x="178" y="653" width="1" height="1" fill="#0000FF"/>
<rect x="180" y="653" width="1" height="1" fill="#0000FF"/>
<rect x="182" y="653" width="1" height="1" fill="#0000FF"/>
<rect x="184" y="653" width="1" height="1" fill="#0000FF"/>
<rect x="186" y="653" width="1" height="1" fill="#0000FF"/>
<rect x="188" y="653" width="1" height="1" fill="#0000FF"/>
<rect x="190" y="653" width="1" height="1" fill="#0000FF"/>
<rect x="192" y="653" width="1" height="1" fill="#0000FF"/>
<rect x="194" y="653" width="1" height="1" fill="#0000FF"/>
<rect x="196" y="653" width="1" height="1" fill="#0000FF"/>
<rect x="198" y="653" width="1" height="1" fill="#0000FF"/>
<rect x="200" y="653" width="1" height="1" fill="#0000FF"/>
<rect x="202" y="653" width="1" height="1" fill="#0000FF"/>
<rect x="204" y="653" width="1" height="1" fill="#0000FF"/>
<rect x="206" y="653" width="1" height="1" fill="#0000FF"/>
<rect x="208" y="653" width="1" height="1" fill="#0000FF"/>
<rect x="210" y="653" width="1" height="1" fill="#0000FF"/>
<rect x="212" y="653" width="1" height="1" fill="#0000FF"/>
<rect x="214" y="653" width="1" height="1" fill="#0000FF"/>
<rect x="216" y="653" width="1" height="1" fill="#0000FF"/>
<rect x="218" y="653" width="1" height="1" fill="#0000FF"/>
<rect x="220" y="653" width="1" height="1" fill="#0000FF"/>
<rect x="222" y="653" width="1" height="1" fill="#0000FF"/>
<rect x="224" y="653" width="1" height="1" fill="#0000FF"/>
<rect x="226" y="653" width="1" height="1" fill="#0000FF"/>
<rect x="228" y="653" width="1" height="1" fill="#0000FF"/>
<rect x="230" y="653" width="1" height="1" fill="#0000FF"/>
<rect x="232" y="653" width="1" height="1" fill="#0000FF"/>
<rect x="234" y="653" width="1" height="1" fill="#0000FF"/>
<rect x="236" y="653" width="1" height="1" fill="#0000FF"/>
<rect x="238" y="653" width="1" height="1" fill="#0000FF"/>
<rect x="240" y="653" width="1" height="1" fill="#0000FF"/>
<rect x="242" y="653" width="1" height="1" fill="#0000FF"/>
<rect x="244" y="653" width="1" height="1" fill="#0000FF"/>
<rect x="246" y="653" width="1" height="1" fill="#0000FF"/>
<rect x="248" y="653" width="1" height="1" fill="#0000FF"/>
<rect x="250" y="653" width="1" height="1" fill="#0000FF"/>
<rect x="252" y="653" width="1" height="1" fill="#0000FF"/>
<rect x="254" y="653" width="1" height="1" fill="#0000FF"/>
<rect x="256" y="653" width="1" height="1" fill="#0000FF"/>
<rect x="258" y="653" width="1" height="1" fill="#0000FF"/>
<rect x="260" y="653" width="1" height="1" fill="#0000FF"/>
<rect x="262" y="653" width="1" height="1" fill="#0000FF"/>
<rect x="264" y="653" width="1" height="1" fill="#0000FF"/>
<rect x="266" y="653" width="1" height="1" fill="#0000FF"/>
<rect x="268" y="653" width="1" height="1" fill="#0000FF"/>
<rect x="270" y="653" width="1" height="1" fill="#0000FF"/>
<rect x="272" y="653" width="1" height="1" fill="#0000FF"/>
<rect x="274" y="653" width="1" height="1" fill="#0000FF"/>
<rect x="276" y="653" width="1" height="1" fill="#0000FF"/>
<rect x="278" y="653" width="1" height="1" fill="#0000FF"/>
<rect x="280" y="653" width="1" height="1" fill="#0000FF"/>
<rect x="282" y="653" width="1" height="1" fill="#0000FF"/>
<rect x="284" y="653" width="1" height="1" fill="#0000FF"/>
<rect x="286" y="653" width="1" height="1" fill="#0000FF"/>
<rect x="288" y="653" width="1" height="1" fill="#0000FF"/>
<rect x="290" y="653" width="1" height="1" fill="#0000FF"/>
<rect x="292" y="653" width="1" height="1" fill="#0000FF"/>
<rect x="294" y="653" width="1" height="1" fill="#0000FF"/>
<rect x="296" y="653" width="1" height="1" fill="#0000FF"/>
<rect x="298" y="653" width="1" height="1" fill="#0000FF"/>
<rect x="300" y="653" width="1" height="1" fill="#0000FF"/>
<rect x="302" y="653" width="1" height="1" fill="#0000FF"/>
<rect x="304" y="653" width="1" height="1" fill="#0000FF"/>
<rect x="306" y="653" width="1" height="1" fill="#0000FF"/>
<rect x="308" y="653" width="1" height="1" fill="#0000FF"/>
<rect x="310" y="653" width="1" height="1" fill="#0000FF"/>
<rect x="312" y="653" width="1" height="1" fill="#0000FF"/>
<rect x="314" y="653" width="1" height="1" fill="#0000FF"/>
<rect x="316" y="653" width="1" height="1" fill="#0000FF"/>
<rect x="318" y="653" width="1" height="1" fill="#0000FF"/>
<rect x="320" y="653" width="1" height="1" fill="#0000FF"/>
<rect x="322" y="653" width="1" height="1" fill="#0000FF"/>
<rect x="324" y="653" width="1" height="1" fill="#0000FF"/>
<rect x="326" y="653" width="1" height="1" fill="#0000FF"/>
<rect x="328" y="653" width="1" height="1" fill="#0000FF"/>
<rect x="330" y="653" width="1" height="1" fill="#0000FF"/>
<rect x="332" y="653" width="1" height="1" fill="#0000FF"/>
<rect x="334" y="653" width="1" height="1" fill="#0000FF"/>
<rect x="336" y="653" width="1" height="1" fill="#0000FF"/>
<rect x="338" y="653" width="1" height="1" fill="#0000FF"/>
<rect x="340" y="653" width="1" height="1" fill="#0000FF"/>
<rect x="342" y="653" width="1" height="1" fill="#0000FF"/>
<rect x="344" y="653" width="1" height="1" fill="#0000FF"/>
<rect x="346" y="653" width="1" height="1" fill="#0000FF"/>
<rect x="348" y="653" width="1" height="1" fill="#0000FF"/>
<rect x="350" y="653" width="1" height="1" fill="#0000FF"/>
<rect x="352" y="653" width="1" height="1" fill="#0000FF"/>
<rect x="354" y="653" width="1" height="1" fill="#0000FF"/>
<rect x="356" y="653" width="1" height="1" fill="#0000FF"/>
<rect x="358" y="653" width="1" height="1" fill="#0000FF"/>
<rect x="360" y="653" width="1" height="1" fill="#0000FF"/>
<rect x="362" y="653" width="1" height="1" fill="#0000FF"/>
<rect x="364" y="653" width="1" height="1" fill="#0000FF"/>
<rect x="366" y="653" width="1" height="1" fill="#0000FF"/>
<rect x="368" y="653" width="1" height="1" fill="#0000FF"/>
<rect x="370" y="653" width="1" height="1" fill="#0000FF"/>
<rect x="372" y="653" width="1" height="1" fill="#0000FF"/>
<rect x="374" y="653" width="1" height="1" fill="#0000FF"/>
<rect x="376" y="653" width="1" height="1" fill="#0000FF"/>
<rect x="378" y="653" width="1" height="1" fill="#0000FF"/>
<rect x="380" y="653" width="1" height="1" fill="#0000FF"/>
<rect x="382" y="653" width="1" height="1" fill="#0000FF"/>
<rect x="384" y="653" width="1" height="1" fill="#0000FF"/>
<rect x="386" y="653" width="1" height="1" fill="#0000FF"/>
<rect x="388" y="653" width="1" height="1" fill="#0000FF"/>
<rect x="390" y="653" width="1" height="1" fill="#0000FF"/>
<rect x="392" y="653" width="1" height="1" fill="#0000FF"/>
<rect x="394" y="653" width="1" height="1" fill="#0000FF"/>
<rect x="396" y="653" width="1" height="1" fill="#0000FF"/>
<rect x="398" y="653" width="1" height="1" fill="#0000FF"/>
<rect x="400" y="653" width="1" height="1" fill="#0000FF"/>
<rect x="402" y="653" width="1" height="1" fill="#0000FF"/>
<rect x="404" y="653" width="1" height="1" fill="#0000FF"/>
<rect x="406" y="653" width="1" height="1" fill="#0000FF"/>
<rect x="408" y="653" width="1" height="1" fill="#0000FF"/>
<rect x="410" y="653" width="1" height="1" fill="#0000FF"/>
<rect x="412" y="653" width="1" height="1" fill="#0000FF"/>
<rect x="414" y="653" width="1" height="1" fill="#0000FF"/>
<rect x="416" y="653" width="1" height="1" fill="#0000FF"/>
<rect x="418" y="653" width="1" height="1" fill="#0000FF"/>
<rect x="420" y="653" width="1" height="1" fill="#0000FF"/>
<rect x="422" y="653" width="1" height="1" fill="#0000FF"/>
<rect x="424" y="653" width="1" height="1" fill="#0000FF"/>
<rect x="426" y="653" width="1" height="1" fill="#0000FF"/>
<rect x="428" y="653" width="1" height="1" fill="#0000FF"/>
<rect x="430" y="653" width="1" height="1" fill="#0000FF"/>
<rect x="432" y="653" width="1" height="1" fill="#0000FF"/>
<rect x="434" y="653" width="1" height="1" fill="#0000FF"/>
<rect x="436" y="653" width="1" height="1" fill="#0000FF"/>
<rect x="438" y="653" width="1" height="1" fill="#0000FF"/>
<rect x="440" y="653" width="1" height="1" fill="#0000FF"/>
<rect x="442" y="653" width="1" height="1" fill="#0000FF"/>
<rect x="444" y="653" width="1" height="1" fill="#0000FF"/>
<rect x="446" y="653" width="1" height="1" fill="#0000FF"/>
<rect x="448" y="653" width="1" height="1" fill="#0000FF"/>
<rect x="450" y="653" width="1" height="1" fill="#0000FF"/>
<rect x="452" y="653" width="1" height="1" fill="#0000FF"/>
<rect x="454" y="653" width="1" height="1" fill="#0000FF"/>
<rect x="456" y="653" width="1" height="1" fill="#0000FF"/>
<rect x="458" y="653" width="1" height="1" fill="#0000FF"/>
<rect x="460" y="653" width="1" height="1" fill="#0000FF"/>
<rect x="462" y="653" width="1" height="1" fill="#0000FF"/>
<rect x="464" y="653" width="1" height="1" fill="#0000FF"/>
<rect x="466" y="653" width="1" height="1" fill="#0000FF"/>
<rect x="468" y="653" width="1" height="1" fill="#0000FF"/>
<rect x="470" y="653" width="1" height="1" fill="#0000FF"/>
<rect x="472" y="653" width="1" height="1" fill="#0000FF"/>
<rect x="474" y="653" width="1" height="1" fill="#0000FF"/>
<rect x="476" y="653" width="1" height="1" fill="#0000FF"/>
<rect x="478" y="653" width="1" height="1" fill="#0000FF"/>
<rect x="480" y="653" width="1" height="1" fill="#0000FF"/>
<rect x="482" y="653" width="1" height="1" fill="#0000FF"/>
<rect x="484" y="653" width="1" height="1" fill="#0000FF"/>
<rect x="486" y="653" width="1" height="1" fill="#0000FF"/>
<rect x="488" y="653" width="1" height="1" fill="#0000FF"/>
<rect x="490" y="653" width="1" height="1" fill="#0000FF"/>
<rect x="492" y="653" width="1" height="1" fill="#0000FF"/>
<rect x="494" y="653" width="1" height="1" fill="#0000FF"/>
<rect x="496" y="653" width="1" height="1" fill="#0000FF"/>
<rect x="498" y="653" width="1" height="1" fill="#0000FF"/>
<rect x="500" y="653" width="1" height="1" fill="#0000FF"/>
<rect x="502" y="653" width="1" height="1" fill="#0000FF"/>
<rect x="504" y="653" width="1" height="1" fill="#0000FF"/>
<rect x="506" y="653" width="1" height="1" fill="#0000FF"/>
<rect x="508" y="653" width="1" height="1" fill="#0000FF"/>
<rect x="510" y="653" width="1" height="1" fill="#0000FF"/>
<rect x="512" y="653" width="1" height="1" fill="#0000FF"/>
<rect x="514" y="653" width="1" height="1" fill="#0000FF"/>
<rect x="516" y="653" width="1" height="1" fill="#0000FF"/>
<rect x="518" y="653" width="1" height="1" fill="#0000FF"/>
<rect x="520" y="653" width="1" height="1" fill="#0000FF"/>
<rect x="522" y="653" width="1" height="1" fill="#0000FF"/>
<rect x="524" y="653" width="1" height="1" fill="#0000FF"/>
<rect x="526" y="653" width="1" height="1" fill="#0000FF"/>
<rect x="528" y="653" width="1" height="1" fill="#0000FF"/>
<rect x="530" y="653" width="1" height="1" fill="#0000FF"/>
<rect x="532" y="653" width="1" height="1" fill="#0000FF"/>
<rect x="534" y="653" width="1" height="1" fill="#0000FF"/>
<rect x="536" y="653" width="1" height="1" fill="#0000FF"/>
<rect x="538" y="653" width="1" height="1" fill="#0000FF"/>
<rect x="540" y="653" width="1" height="1" fill="#0000FF"/>
<rect x="542" y="653" width="1" height="1" fill="#0000FF"/>
<rect x="544" y="653" width="1" height="1" fill="#0000FF"/>
<rect x="546" y="653" width="1" height="1" fill="#0000FF"/>
<rect x="548" y="653" width="1" height="1" fill="#0000FF"/>
<rect x="550" y="653" width="1" height="1" fill="#0000FF"/>
<rect x="552" y="653" width="1" height="1" fill="#0000FF"/>
<rect x="554" y="653" width="1" height="1" fill="#0000FF"/>
<rect x="556" y="653" width="1" height="1" fill="#0000FF"/>
<rect x="558" y="653" width="1" height="1" fill="#0000FF"/>
<rect x="560" y="653" width="1" height="1" fill="#0000FF"/>
<rect x="562" y="653" width="1" height="1" fill="#0000FF"/>
<rect x="564" y="653" width="1" height="1" fill="#0000FF"/>
<rect x="566" y="653" width="1" height="1" fill="#0000FF"/>
<rect x="568" y="653" width="1" height="1" fill="#0000FF"/>
<rect x="570" y="653" width="1" height="1" fill="#0000FF"/>
<rect x="572" y="653" width="1" height="1" fill="#0000FF"/>
<rect x="574" y="653" width="1" height="1" fill="#0000FF"/>
<rect x="576" y="653" width="1" height="1" fill="#0000FF"/>
<rect x="578" y="653" width="1" height="1" fill="#0000FF"/>
<rect x="580" y="653" width="1" height="1" fill="#0000FF"/>
<rect x="582" y="653" width="1" height="1" fill="#0000FF"/>
<rect x="584" y="653" width="1" height="1" fill="#0000FF"/>
<rect x="586" y="653" width="1" height="1" fill="#0000FF"/>
<rect x="588" y="653" width="1" height="1" fill="#0000FF"/>
<rect x="590" y="653" width="1" height="1" fill="#0000FF"/>
<rect x="592" y="653" width="1" height="1" fill="#0000FF"/>
<rect x="594" y="653" width="1" height="1" fill="#0000FF"/>
<rect x="596" y="653" width="1" height="1" fill="#0000FF"/>
<rect x="598" y="653" width="1" height="1" fill="#0000FF"/>
<rect x="600" y="653" width="1" height="1" fill="#0000FF"/>
<rect x="602" y="653" width="1" height="1" fill="#0000FF"/>
<rect x="604" y="653" width="1" height="1" fill="#0000FF"/>
<rect x="606" y="653" width="1" height="1" fill="#0000FF"/>
<rect x="608" y="653" width="1" height="1" fill="#0000FF"/>
<rect x="610" y="653" width="1" height="1" fill="#0000FF"/>
<rect x="612" y="653" width="1" height="1" fill="#0000FF"/>
<rect x="614" y="653" width="1" height="1" fill="#0000FF"/>
<rect x="616" y="653" width="1" height="1" fill="#0000FF"/>
<rect x="618" y="653" width="1" height="1" fill="#0000FF"/>
<rect x="620" y="653" width="1" height="1" fill="#0000FF"/>
<rect x="622" y="653" width="1" height="1" fill="#0000FF"/>
<rect x="624" y="653" width="1" height="1" fill="#0000FF"/>
<rect x="626" y="653" width="1" height="1" fill="#0000FF"/>
<rect x="628" y="653" width="1" height="1" fill="#0000FF"/>
<rect x="630" y="653" width="1" height="1" fill="#0000FF"/>
<rect x="632" y="653" width="1" height="1" fill="#0000FF"/>
<rect x="634" y="653" width="1" height="1" fill="#0000FF"/>
<rect x="636" y="653" width="1" height="1" fill="#0000FF"/>
<rect x="638" y="653" width="1" height="1" fill="#0000FF"/>
<rect x="640" y="653" width="1" height="1" fill="#0000FF"/>
<rect x="642" y="653" width="1" height="1" fill="#0000FF"/>
<rect x="644" y="653" width="1" height="1" fill="#0000FF"/>
<rect x="646" y="653" width="1" height="1" fill="#0000FF"/>
<rect x="648" y="653" width="1" height="1" fill="#0000FF"/>
<rect x="650" y="653" width="1" height="1" fill="#0000FF"/>
<rect x="652" y="653" width="1" height="1" fill="#0000FF"/>
<rect x="654" y="653" width="1" height="1" fill="#0000FF"/>
<rect x="656" y="653" width="1" height="1" fill="#0000FF"/>
<rect x="658" y="653" width="1" height="1" fill="#0000FF"/>
<rect x="660" y="653" width="1" height="1" fill="#0000FF"/>
<rect x="662" y="653" width="1" height="1" fill="#0000FF"/>
<rect x="664" y="653" width="1" height="1" fill="#0000FF"/>
<rect x="666" y="653" width="1" height="1" fill="#0000FF"/>
<rect x="668" y="653" width="1" height="1" fill="#0000FF"/>
<rect x="670" y="653" width="1" height="1" fill="#0000FF"/>
<rect x="672" y="653" width="1" height="1" fill="#0000FF"/>
<rect x="674" y="653" width="1" height="1" fill="#0000FF"/>
<rect x="676" y="653" width="1" height="1" fill="#0000FF"/>
<rect x="678" y="653" width="1" height="1" fill="#0000FF"/>
<rect x="680" y="653" width="1" height="1" fill="#0000FF"/>
<rect x="682" y="653" width="1" height="1" fill="#0000FF"/>
<rect x="684" y="653" width="1" height="1" fill="#0000FF"/>
<rect x="686" y="653" width="1" height="1" fill="#0000FF"/>
<rect x="688" y="653" width="1" height="1" fill="#0000FF"/>
<rect x="690" y="653" width="1" height="1" fill="#0000FF"/>
<rect x="692" y="653" width="1" height="1" fill="#0000FF"/>
<rect x="694" y="653" width="1" height="1" fill="#0000FF"/>
<rect x="696" y="653" width="1" height="1" fill="#0000FF"/>
<rect x="698" y="653" width="1" height="1" fill="#0000FF"/>
<rect x="700" y="653" width="1" height="1" fill="#0000FF"/>
<rect x="702" y="653" width="1" height="1" fill="#0000FF"/>
<rect x="704" y="653" width="1" height="1" fill="#0000FF"/>
<rect x="706" y="653" width="1" height="1" fill="#0000FF"/>
<rect x="708" y="653" width="1" height="1" fill="#0000FF"/>
<rect x="710" y="653" width="1" height="1" fill="#0000FF"/>
<rect x="712" y="653" width="1" height="1" fill="#0000FF"/>
<rect x="714" y="653" width="1" height="1" fill="#0000FF"/>
<rect x="716" y="653" width="1" height="1" fill="#0000FF"/>
<rect x="718" y="653" width="1" height="1" fill="#0000FF"/>
<rect x="720" y="653" width="1" height="1" fill="#0000FF"/>
<rect x="722" y="653" width="1" height="1" fill="#0000FF"/>
<rect x="724" y="653" width="1" height="1" fill="#0000FF"/>
<rect x="726" y="653" width="1" height="1" fill="#0000FF"/>
<rect x="728" y="653" width="1" height="1" fill="#0000FF"/>
<rect x="730" y="653" width="1" height="1" fill="#0000FF"/>
<rect x="732" y="653" width="1" height="1" fill="#0000FF"/>
<rect x="734" y="653" width="1" height="1" fill="#0000FF"/>
<rect x="736" y="653" width="1" height="1" fill="#0000FF"/>
<rect x="738" y="653" width="1" height="1" fill="#0000FF"/>
<rect x="740" y="653" width="1" height="1" fill="#0000FF"/>
<rect x="742" y="653" width="1" height="1" fill="#0000FF"/>
<rect x="744" y="653" width="1" height="1" fill="#0000FF"/>
<rect x="746" y="653" width="1" height="1" fill="#0000FF"/>
<rect x="748" y="653" width="1" height="1" fill="#0000FF"/>
<rect x="8" y="653" width="2" height="4" fill="#808080"/>
<rect x="11" y="653" width="2" height="5" fill="#808080"/>
<rect x="14" y="653" width="2" height="5" fill="#808080"/>
<rect x="17" y="653" width="2" height="5" fill="#808080"/>
<rect x="21" y="653" width="2" height="6" fill="#808080"/>
<rect x="24" y="653" width="2" height="5" fill="#808080"/>
<rect x="27" y="653" width="2" height="5" fill="#808080"/>
<rect x="31" y="653" width="2" height="2" fill="#808080"/>
<rect x="34" y="653" width="2" height="1" fill="#808080"/>
<rect x="37" y="653" width="2" height="1" fill="#808080"/>
<rect x="41" y="653" width="2" height="1" fill="#808080"/>
<rect x="44" y="653" width="2" height="1" fill="#808080"/>
<rect x="47" y="650" width="2" height="4" fill="#808080"/>
<rect x="51" y="649" width="2" height="5" fill="#808080"/>
<rect x="54" y="648" width="2" height="6" fill="#808080"/>
<rect x="57" y="648" width="2" height="6" fill="#808080"/>
<rect x="61" y="648" width="2" height="6" fill="#808080"/>
<rect x="64" y="648" width="2" height="6" fill="#808080"/>
<rect x="67" y="649" width="2" height="5" fill="#808080"/>
<rect x="71" y="650" width="2" height="4" fill="#808080"/>
<rect x="74" y="651" width="2" height="3" fill="#808080"/>
<rect x="77" y="651" width="2" height="3" fill="#808080"/>
<rect x="81" y="653" width="2" height="1" fill="#808080"/>
<rect x="84" y="653" width="2" height="2" fill="#808080"/>
<rect x="87" y="653" width="2" height="2" fill="#808080"/>
<rect x="91" y="653" width="2" height="2" fill="#808080"/>
<rect x="94" y="653" width="2" height="2" fill="#808080"/>
<rect x="97" y="652" width="2" height="2" fill="#808080"/>
<rect x="101" y="650" width="2" height="4" fill="#808080"/>
<rect x="104" y="649" width="2" height="5" fill="#808080"/>
<rect x="107" y="649" width="2" height="5" fill="#808080"/>
<rect x="111" y="648" width="2" height="6" fill="#808080"/>
<rect x="114" y="649" width="2" height="5" fill="#808080"/>
<rect x="117" y="649" width="2" height="5" fill="#808080"/>
<rect x="121" y="649" width="2" height="5" fill="#808080"/>
<rect x="124" y="648" width="2" height="6" fill="#808080"/>
<rect x="127" y="648" width="2" height="6" fill="#808080"/>
<rect x="131" y="647" width="2" height="7" fill="#808080"/>
<rect x="134" y="649" width="2" height="5" fill="#808080"/>
<rect x="137" y="651" width="2" height="3" fill="#808080"/>
<rect x="141" y="653" width="2" height="1" fill="#808080"/>
<rect x="144" y="653" width="2" height="1" fill="#808080"/>
<rect x="147" y="653" width="2" height="1" fill="#808080"/>
<rect x="151" y="653" width="2" height="2" fill="#808080"/>
<rect x="154" y="653" width="2" height="3" fill="#808080"/>
<rect x="157" y="653" width="2" height="4" fill="#808080"/>
<rect x="161" y="653" width="2" height="5" fill="#808080"/>
<rect x="164" y="653" width="2" height="6" fill="#808080"/>
<rect x="167" y="653" width="2" height="6" fill="#808080"/>
<rect x="171" y="653" width="2" height="7" fill="#808080"/>
<rect x="174" y="653" width="2" height="7" fill="#808080"/>
<rect x="177" y="653" width="2" height="7" fill="#808080"/>
<rect x="181" y="653" width="2" height="7" fill="#808080"/>
<rect x="184" y="653" width="2" height="7" fill="#808080"/>
<rect x="187" y="653" width="2" height="7" fill="#808080"/>
<rect x="191" y="653" width="2" height="6" fill="#808080"/>
<rect x="194" y="653" width="2" height="6" fill="#808080"/>
<rect x="197" y="653" width="2" height="5" fill="#808080"/>
<rect x="201" y="653" width="2" height="5" fill="#808080"/>
<rect x="204" y="653" width="2" height="4" fill="#808080"/>
<rect x="207" y="653" width="2" height="3" fill="#808080"/>
<rect x="211" y="653" width="2" height="3" fill="#808080"/>
<rect x="214" y="653" width="2" height="2" fill="#808080"/>
<rect x="217" y="653" width="2" height="2" fill="#808080"/>
<rect x="221" y="653" width="2" height="2" fill="#808080"/>
<rect x="224" y="653" width="2" height="2" fill="#808080"/>
<rect x="227" y="653" width="2" height="1" fill="#808080"/>
<rect x="231" y="653" width="2" height="1" fill="#808080"/>
<rect x="234" y="653" width="2" height="1" fill="#808080"/>
<rect x="237" y="653" width="2" height="2" fill="#808080"/>
<rect x="241" y="653" width="2" height="2" fill="#808080"/>
<rect x="244" y="653" width="2" height="2" fill="#808080"/>
<rect x="247" y="653" width="2" height="2" fill="#808080"/>
<rect x="251" y="653" width="2" height="1" fill="#808080"/>
<rect x="254" y="653" width="2" height="1" fill="#808080"/>
<rect x="257" y="653" width="2" height="1" fill="#808080"/>
<rect x="261" y="653" width="2" height="1" fill="#808080"/>
<rect x="264" y="653" width="2" height="1" fill="#808080"/>
<rect x="267" y="653" width="2" height="1" fill="#808080"/>
<rect x="271" y="653" width="2" height="1" fill="#808080"/>
<rect x="274" y="653" width="2" height="1" fill="#808080"/>
<rect x="277" y="653" width="2" height="1" fill="#808080"/>
<rect x="281" y="653" width="2" height="1" fill="#808080"/>
<rect x="284" y="653" width="2" height="1" fill="#808080"/>
<rect x="287" y="653" width="2" height="1" fill="#808080"/>
<rect x="291" y="653" width="2" height="1" fill="#808080"/>
<rect x="294" y="653" width="2" height="1" fill="#808080"/>
<rect x="297" y="653" width="2" height="1" fill="#808080"/>
<rect x="301" y="653" width="2" height="1" fill="#808080"/>
<rect x="304" y="651" width="2" height="3" fill="#808080"/>
<rect x="307" y="650" width="2" height="4" fill="#808080"/>
<rect x="311" y="647" width="2" height="7" fill="#808080"/>
<rect x="314" y="646" width="2" height="8" fill="#808080"/>
<rect x="317" y="645" width="2" height="9" fill="#808080"/>
<rect x="321" y="645" width="2" height="9" fill="#808080"/>
<rect x="324" y="645" width="2" height="9" fill="#808080"/>
<rect x="327" y="645" width="2" height="9" fill="#808080"/>
<rect x="331" y="646" width="2" height="8" fill="#808080"/>
<rect x="334" y="647" width="2" height="7" fill="#808080"/>
<rect x="337" y="647" width="2" height="7" fill="#808080"/>
<rect x="341" y="648" width="2" height="6" fill="#808080"/>
<rect x="344" y="649" width="2" height="5" fill="#808080"/>
<rect x="347" y="647" width="2" height="7" fill="#808080"/>
<rect x="351" y="644" width="2" height="10" fill="#808080"/>
<rect x="354" y="644" width="2" height="10" fill="#808080"/>
<rect x="357" y="644" width="2" height="10" fill="#808080"/>
<rect x="361" y="644" width="2" height="10" fill="#808080"/>
<rect x="364" y="645" width="2" height="9" fill="#808080"/>
<rect x="367" y="647" width="2" height="7" fill="#808080"/>
<rect x="371" y="650" width="2" height="4" fill="#808080"/>
<rect x="374" y="651" width="2" height="3" fill="#808080"/>
<rect x="377" y="651" width="2" height="3" fill="#808080"/>
<rect x="381" y="653" width="2" height="1" fill="#808080"/>
<rect x="384" y="653" width="2" height="3" fill="#808080"/>
<rect x="387" y="653" width="2" height="4" fill="#808080"/>
<rect x="391" y="653" width="2" height="5" fill="#808080"/>
<rect x="394" y="653" width="2" height="7" fill="#808080"/>
<rect x="397" y="653" width="2" height="9" fill="#808080"/>
<rect x="401" y="653" width="2" height="10" fill="#808080"/>
<rect x="404" y="653" width="2" height="10" fill="#808080"/>
<rect x="407" y="653" width="2" height="10" fill="#808080"/>
<rect x="411" y="653" width="2" height="10" fill="#808080"/>
<rect x="414" y="653" width="2" height="10" fill="#808080"/>
<rect x="417" y="653" width="2" height="10" fill="#808080"/>
<rect x="421" y="653" width="2" height="7" fill="#808080"/>
<rect x="424" y="653" width="2" height="4" fill="#808080"/>
<rect x="427" y="653" width="2" height="1" fill="#808080"/>
<rect x="431" y="653" width="2" height="1" fill="#808080"/>
<rect x="434" y="650" width="2" height="4" fill="#808080"/>
<rect x="437" y="647" width="2" height="7" fill="#808080"/>
<rect x="441" y="647" width="2" height="7" fill="#808080"/>
<rect x="444" y="648" width="2" height="6" fill="#808080"/>
<rect x="447" y="650" width="2" height="4" fill="#808080"/>
<rect x="451" y="652" width="2" height="2" fill="#808080"/>
<rect x="454" y="653" width="2" height="1" fill="#808080"/>
<rect x="457" y="653" width="2" height="3" fill="#808080"/>
<rect x="461" y="653" width="2" height="4" fill="#808080"/>
<rect x="464" y="653" width="2" height="6" fill="#808080"/>
<rect x="467" y="653" width="2" height="8" fill="#808080"/>
<rect x="471" y="653" width="2" height="9" fill="#808080"/>
<rect x="474" y="653" width="2" height="9" fill="#808080"/>
<rect x="477" y="653" width="2" height="9" fill="#808080"/>
<rect x="481" y="653" width="2" height="4" fill="#808080"/>
<rect x="484" y="653" width="2" height="1" fill="#808080"/>
<rect x="487" y="652" width="2" height="2" fill="#808080"/>
<rect x="491" y="651" width="2" height="3" fill="#808080"/>
<rect x="494" y="652" width="2" height="2" fill="#808080"/>
<rect x="497" y="652" width="2" height="2" fill="#808080"/>
<rect x="501" y="652" width="2" height="2" fill="#808080"/>
<rect x="504" y="653" width="2" height="1" fill="#808080"/>
<rect x="507" y="653" width="2" height="1" fill="#808080"/>
<rect x="511" y="653" width="2" height="2" fill="#808080"/>
<rect x="514" y="653" width="2" height="4" fill="#808080"/>
<rect x="517" y="653" width="2" height="5" fill="#808080"/>
<rect x="521" y="653" width="2" height="5" fill="#808080"/>
<rect x="524" y="653" width="2" height="5" fill="#808080"/>
<rect x="527" y="653" width="2" height="5" fill="#808080"/>
<rect x="531" y="653" width="2" height="4" fill="#808080"/>
<rect x="534" y="653" width="2" height="3" fill="#808080"/>
<rect x="537" y="653" width="2" height="3" fill="#808080"/>
<rect x="541" y="653" width="2" height="2" fill="#808080"/>
<rect x="544" y="653" width="2" height="2" fill="#808080"/>
<rect x="547" y="653" width="2" height="2" fill="#808080"/>
<rect x="551" y="653" width="2" height="4" fill="#808080"/>
<rect x="554" y="653" width="2" height="5" fill="#808080"/>
<rect x="557" y="653" width="2" height="7" fill="#808080"/>
<rect x="561" y="653" width="2" height="8" fill="#808080"/>
<rect x="564" y="653" width="2" height="9" fill="#808080"/>
<rect x="567" y="653" width="2" height="9" fill="#808080"/>
<rect x="571" y="653" width="2" height="7" fill="#808080"/>
<rect x="574" y="653" width="2" height="5" fill="#808080"/>
<rect x="577" y="653" width="2" height="4" fill="#808080"/>
<rect x="581" y="653" width="2" height="3" fill="#808080"/>
<rect x="584" y="653" width="2" height="2" fill="#808080"/>
<rect x="587" y="653" width="2" height="2" fill="#808080"/>
<rect x="591" y="653" width="2" height="2" fill="#808080"/>
<rect x="594" y="653" width="2" height="2" fill="#808080"/>
<rect x="597" y="653" width="2" height="1" fill="#808080"/>
<rect x="601" y="653" width="2" height="1" fill="#808080"/>
<rect x="604" y="652" width="2" height="2" fill="#808080"/>
<rect x="607" y="650" width="2" height="4" fill="#808080"/>
<rect x="611" y="648" width="2" height="6" fill="#808080"/>
<rect x="614" y="647" width="2" height="7" fill="#808080"/>
<rect x="617" y="645" width="2" height="9" fill="#808080"/>
<rect x="621" y="645" width="2" height="9" fill="#808080"/>
<rect x="624" y="645" width="2" height="9" fill="#808080"/>
<rect x="627" y="647" width="2" height="7" fill="#808080"/>
<rect x="631" y="648" width="2" height="6" fill="#808080"/>
<rect x="634" y="649" width="2" height="5" fill="#808080"/>
<rect x="637" y="650" width="2" height="4" fill="#808080"/>
<rect x="641" y="651" width="2" height="3" fill="#808080"/>
<rect x="644" y="652" width="2" height="2" fill="#808080"/>
<rect x="647" y="653" width="2" height="2" fill="#808080"/>
<rect x="651" y="653" width="2" height="4" fill="#808080"/>
<rect x="654" y="653" width="2" height="5" fill="#808080"/>
<rect x="657" y="653" width="2" height="5" fill="#808080"/>
<rect x="661" y="653" width="2" height="6" fill="#808080"/>
<rect x="664" y="653" width="2" height="6" fill="#808080"/>
<rect x="667" y="653" width="2" height="5" fill="#808080"/>
<rect x="671" y="653" width="2" height="5" fill="#808080"/>
<rect x="674" y="653" width="2" height="4" fill="#808080"/>
<rect x="677" y="653" width="2" height="4" fill="#808080"/>
<rect x="681" y="653" width="2" height="4" fill="#808080"/>
<rect x="684" y="653" width="2" height="4" fill="#808080"/>
<rect x="687" y="653" width="2" height="3" fill="#808080"/>
<rect x="691" y="653" width="2" height="3" fill="#808080"/>
<rect x="694" y="653" width="2" height="3" fill="#808080"/>
<rect x="697" y="653" width="2" height="2" fill="#808080"/>
<rect x="701" y="653" width="2" height="1" fill="#808080"/>
<rect x="704" y="652" width="2" height="2" fill="#808080"/>
<rect x="707" y="651" width="2" height="3" fill="#808080"/>
<rect x="711" y="651" width="2" height="3" fill="#808080"/>
<rect x="714" y="651" width="2" height="3" fill="#808080"/>
<rect x="717" y="651" width="2" height="3" fill="#808080"/>
<rect x="721" y="651" width="2" height="3" fill="#808080"/>
<rect x="724" y="650" width="2" height="4" fill="#808080"/>
<rect x="727" y="651" width="2" height="3" fill="#808080"/>
<rect x="731" y="652" width="2" height="2" fill="#808080"/>
<rect x="734" y="652" width="2" height="2" fill="#808080"/>
<rect x="737" y="651" width="2" height="3" fill="#808080"/>
<rect x="741" y="650" width="2" height="4" fill="#808080"/>
<rect x="744" y="648" width="2" height="6" fill="#808080"/>
<rect x="747" y="643" width="2" height="11" fill="#808080"/>
<polyline points="8.5,657.5 15.5,657.5 20.5,659.3 25.5,661.0 29.5,661.5 33.0,658.5 38.0,657.5 44.5,657.5 49.5,653.0 54.5,650.0 60.5,648.0 66.0,647.5 70.5,649.3 75.5,650.5 80.5,651.5 83.0,653.0 95.5,652.5 100.5,649.3 105.5,646.5 110.5,643.0 115.5,641.5 121.5,641.5 126.5,638.0 131.5,635.5 136.5,636.0 140.5,638.5 148.0,639.3 154.5,640.5 160.5,644.3 168.0,648.0 175.5,651.5 183.0,654.3 190.5,656.0 198.0,658.5 205.5,659.3 215.5,658.5 228.0,661.3 235.5,661.3 255.5,660.5 265.5,659.3 275.5,660.5 288.0,660.5 300.5,658.5 306.5,656.0 310.5,653.0 313.0,649.3 320.5,645.5 330.5,641.5 340.5,638.5 346.5,638.0 351.5,630.5 358.0,626.0 365.5,623.5 370.5,625.0 375.5,626.0 380.5,625.3 386.5,629.3 393.0,633.5 399.5,639.3 405.5,643.5 411.5,648.0 418.0,651.5 421.0,652.5 425.5,648.0 431.5,645.0 436.5,638.0 443.0,635.0 448.0,635.0 453.0,636.5 458.0,639.3 463.0,644.3 468.0,649.3 473.0,653.5 478.0,654.3 481.5,651.5 485.5,647.5 490.5,646.0 498.0,645.5 505.5,646.5 510.5,648.0 515.5,651.5 523.0,653.5 530.5,655.0 540.5,656.0 545.5,657.5 551.5,658.0 556.5,661.0 563.0,666.0 569.5,669.3 578.0,669.3 583.0,667.5 588.0,667.5 594.5,669.3 600.5,667.5 608.0,665.5 613.0,660.5 618.0,655.5 624.5,651.5 631.5,650.0 640.5,651.0 648.0,653.0 655.5,658.0 661.5,663.0 668.0,666.0 678.0,666.0 685.5,668.5 693.0,668.5 700.5,666.5 708.0,664.3 715.5,661.5 725.5,659.3 735.5,660.0 741.5,656.0 745.0,653.9 748.5,639.0" fill="none" stroke="#000" stroke-width="1"/>
<polyline points="9.5,657.5 16.5,657.5 21.5,659.3 26.5,661.0 30.5,661.5 34.0,658.5 39.0,657.5 45.5,657.5 50.5,653.0 55.5,650.0 61.5,648.0 67.0,647.5 71.5,649.3 76.5,650.5 81.5,651.5 84.0,653.0 96.5,652.5 101.5,649.3 106.5,646.5 111.5,643.0 116.5,641.5 122.5,641.5 127.5,638.0 132.5,635.5 137.5,636.0 141.5,638.5 149.0,639.3 155.5,640.5 161.5,644.3 169.0,648.0 176.5,651.5 184.0,654.3 191.5,656.0 199.0,658.5 206.5,659.3 216.5,658.5 229.0,661.3 236.5,661.3 256.5,660.5 266.5,659.3 276.5,660.5 289.0,660.5 301.5,658.5 307.5,656.0 311.5,653.0 314.0,649.3 321.5,645.5 331.5,641.5 341.5,638.5 347.5,638.0 352.5,630.5 359.0,626.0 366.5,623.5 371.5,625.0 376.5,626.0 381.5,625.3 387.5,629.3 394.0,633.5 400.5,639.3 406.5,643.5 412.5,648.0 419.0,651.5 422.0,652.5 426.5,648.0 432.5,645.0 437.5,638.0 444.0,635.0 449.0,635.0 454.0,636.5 459.0,639.3 464.0,644.3 469.0,649.3 474.0,653.5 479.0,654.3 482.5,651.5 486.5,647.5 491.5,646.0 499.0,645.5 506.5,646.5 511.5,648.0 516.5,651.5 524.0,653.5 531.5,655.0 541.5,656.0 546.5,657.5 552.5,658.0 557.5,661.0 564.0,666.0 570.5,669.3 579.0,669.3 584.0,667.5 589.0,667.5 595.5,669.3 601.5,667.5 609.0,665.5 614.0,660.5 619.0,655.5 625.5,651.5 632.5,650.0 641.5,651.0 649.0,653.0 656.5,658.0 662.5,663.0 669.0,666.0 679.0,666.0 686.5,668.5 694.0,668.5 701.5,666.5 709.0,664.3 716.5,661.5 726.5,659.3 736.5,660.0 742.5,656.0 746.0,653.9 749.5,639.0" fill="none" stroke="#000" stroke-width="1"/>
<polyline points="8.5,651.5 15.5,654.3 23.0,656.5 30.5,658.0 45.5,658.0 53.0,655.0 60.5,652.5 68.0,650.5 75.5,651.3 83.0,652.3 95.5,652.3 105.5,649.3 115.5,646.0 125.5,643.0 135.5,639.5 145.5,639.5 155.5,640.0 165.5,643.0 175.5,646.0 185.5,650.0 195.5,653.0 200.5,655.5 215.5,658.0 228.0,660.0 240.5,661.0 265.5,660.5 285.5,660.5 300.5,659.3 308.0,657.5 315.5,654.3 325.5,649.3 335.5,645.5 345.5,641.5 355.5,636.5 365.5,630.0 373.0,626.5 380.5,626.0 390.5,628.0 400.5,633.0 410.5,639.3 418.0,644.3 425.5,646.5 433.0,645.0 443.0,641.5 453.0,638.5 460.5,639.3 468.0,643.0 475.5,646.5 481.5,649.3 490.5,648.0 500.5,646.5 510.5,646.5 520.5,649.3 530.5,652.5 540.5,654.3 550.5,655.5 560.5,659.3 570.5,663.5 580.5,666.5 590.5,668.0 600.5,668.0 608.0,666.5 615.5,663.0 625.5,658.5 635.5,654.3 645.5,652.5 650.5,653.0 658.0,656.5 665.5,660.5 675.5,663.5 685.5,666.0 695.5,667.5 703.0,666.5 713.0,665.0 723.0,662.5 733.0,660.5 743.0,658.5 746.5,656.0 749.5,653.5" fill="none" stroke="#FF0000" stroke-width="1"/>
<polyline points="9.5,651.5 16.5,654.3 24.0,656.5 31.5,658.0 46.5,658.0 54.0,655.0 61.5,652.5 69.0,650.5 76.5,651.3 84.0,652.3 96.5,652.3 106.5,649.3 116.5,646.0 126.5,643.0 136.5,639.5 146.5,639.5 156.5,640.0 166.5,643.0 176.5,646.0 186.5,650.0 196.5,653.0 201.5,655.5 216.5,658.0 229.0,660.0 241.5,661.0 266.5,660.5 286.5,660.5 301.5,659.3 309.0,657.5 316.5,654.3 326.5,649.3 336.5,645.5 346.5,641.5 356.5,636.5 366.5,630.0 374.0,626.5 381.5,626.0 391.5,628.0 401.5,633.0 411.5,639.3 419.0,644.3 426.5,646.5 434.0,645.0 444.0,641.5 454.0,638.5 461.5,639.3 469.0,643.0 476.5,646.5 482.5,649.3 491.5,648.0 501.5,646.5 511.5,646.5 521.5,649.3 531.5,652.5 541.5,654.3 551.5,655.5 561.5,659.3 571.5,663.5 581.5,666.5 591.5,668.0 601.5,668.0 609.0,666.5 616.5,663.0 626.5,658.5 636.5,654.3 646.5,652.5 651.5,653.0 659.0,656.5 666.5,660.5 676.5,663.5 686.5,666.0 696.5,667.5 704.0,666.5 714.0,665.0 724.0,662.5 734.0,660.5 744.0,658.5 747.5,656.0 750.5,653.5" fill="none" stroke="#FF0000" stroke-width="1"/>
<rect x="5.5" y="606.5" width="745" height="79" fill="none" stroke="#000" stroke-width="1"/>
<g opacity="0.999">
<text transform="translate(19.5,34.0) scale(0.933,1)" font-size="12.5" font-weight="bold" fill="#FF0000" stroke="#FF0000" stroke-width="0.35">EMA(50) 0.92</text>
<text transform="translate(124.5,34.0) scale(0.933,1)" font-size="12.5" font-weight="bold" fill="#008000" stroke="#008000" stroke-width="0.35">EMA(100) 0.93</text>
<text transform="translate(239.5,34.0) scale(0.933,1)" font-size="12.5" font-weight="bold" fill="#0000FF" stroke="#0000FF" stroke-width="0.35">EMA(200) 0.88</text>
<text transform="translate(354.5,34.0) scale(0.933,1)" font-size="12.5" font-weight="bold" fill="#800000" stroke="#800000" stroke-width="0.35">Bollinger(20) 1.172 0.575</text>
<text transform="translate(8.0,16.0) scale(0.933,1)" font-size="12.5" font-weight="bold" fill="#000" stroke="#000" stroke-width="0.35">MMM</text>
<text transform="translate(625.0,16.0) scale(0.933,1)" font-size="12.5" font-weight="bold" fill="#000" stroke="#000" stroke-width="0.35">1.500</text>
<text transform="translate(700.0,16.0) scale(0.933,1)" font-size="12.5" font-weight="bold" fill="#008000" stroke="#008000" stroke-width="0.35">0.560</text>
<text x="754.7 762.3 766.7 772.7 778.7" y="25.6" font-family="'Liberation Sans', sans-serif" font-size="11.2" fill="#000">2.000</text>
<text x="754.7 762.3 766.7 772.7 778.7" y="112.6" font-family="'Liberation Sans', sans-serif" font-size="11.2" fill="#000">1.500</text>
<text x="754.7 762.3 766.7 772.7 778.7" y="199.6" font-family="'Liberation Sans', sans-serif" font-size="11.2" fill="#000">1.000</text>
<text x="754.7 762.3 766.7 772.7 778.7" y="286.6" font-family="'Liberation Sans', sans-serif" font-size="11.2" fill="#000">0.500</text>
<text x="754.7 762.3 766.7 772.7 778.7" y="373.6" font-family="'Liberation Sans', sans-serif" font-size="11.2" fill="#000">0.000</text>
<text transform="translate(59.5,380.5) scale(0.82,1)" font-size="12.2" fill="#000">Apr</text>
<text transform="translate(88.5,380.5) scale(0.82,1)" font-size="12.2" fill="#000">May</text>
<text transform="translate(146.5,380.5) scale(0.82,1)" font-size="12.2" fill="#000">Jun</text>
<text transform="translate(214.5,380.5) scale(0.82,1)" font-size="12.2" fill="#000">Jul</text>
<text transform="translate(281.5,380.5) scale(0.82,1)" font-size="12.2" fill="#000">Aug</text>
<text transform="translate(343.5,380.5) scale(0.82,1)" font-size="12.2" fill="#000">Sep</text>
<text transform="translate(410.5,380.5) scale(0.82,1)" font-size="12.2" fill="#000">Oct</text>
<text transform="translate(478.5,380.5) scale(0.82,1)" font-size="12.2" fill="#000">Nov</text>
<text transform="translate(543.5,380.5) scale(0.82,1)" font-size="12.2" fill="#000">Dec</text>
<text x="607.5 613.5" y="380.5" font-family="'Liberation Sans', sans-serif" font-size="11.2" fill="#000">10</text>
<text transform="translate(668.5,380.5) scale(0.82,1)" font-size="12.2" fill="#000">Feb</text>
<text transform="translate(313.5,395.5) scale(0.933,1)" font-size="12.5" font-weight="bold" fill="#000" stroke="#000" stroke-width="0.35">RealtimeStockquote.com</text>
<text transform="translate(8.0,420.0) scale(0.933,1)" font-size="12.5" font-weight="bold" fill="#000" stroke="#000" stroke-width="0.35">Stochastic (15,5,5)</text>
<text transform="translate(615.0,420.0) scale(0.933,1)" font-size="12.5" font-weight="bold" fill="#000" stroke="#000" stroke-width="0.35">%K 90.355</text>
<text transform="translate(685.0,420.0) scale(0.933,1)" font-size="12.5" font-weight="bold" fill="#FF0000" stroke="#FF0000" stroke-width="0.35">%D 80.965</text>
<text x="754.7 760.7 766.7" y="420.6" font-family="'Liberation Sans', sans-serif" font-size="11.2" fill="#000">100</text>
<text x="754.7 760.7" y="433.6" font-family="'Liberation Sans', sans-serif" font-size="11.2" fill="#000">80</text>
<text x="754.7 760.7" y="454.6" font-family="'Liberation Sans', sans-serif" font-size="11.2" fill="#000">50</text>
<text x="754.7 760.7" y="475.6" font-family="'Liberation Sans', sans-serif" font-size="11.2" fill="#000">20</text>
<text x="754.7" y="489.6" font-family="'Liberation Sans', sans-serif" font-size="11.2" fill="#000">0</text>
<text transform="translate(59.5,496.5) scale(0.82,1)" font-size="12.2" fill="#000">Apr</text>
<text transform="translate(88.5,496.5) scale(0.82,1)" font-size="12.2" fill="#000">May</text>
<text transform="translate(146.5,496.5) scale(0.82,1)" font-size="12.2" fill="#000">Jun</text>
<text transform="translate(214.5,496.5) scale(0.82,1)" font-size="12.2" fill="#000">Jul</text>
<text transform="translate(281.5,496.5) scale(0.82,1)" font-size="12.2" fill="#000">Aug</text>
<text transform="translate(343.5,496.5) scale(0.82,1)" font-size="12.2" fill="#000">Sep</text>
<text transform="translate(410.5,496.5) scale(0.82,1)" font-size="12.2" fill="#000">Oct</text>
<text transform="translate(478.5,496.5) scale(0.82,1)" font-size="12.2" fill="#000">Nov</text>
<text transform="translate(543.5,496.5) scale(0.82,1)" font-size="12.2" fill="#000">Dec</text>
<text x="607.5 613.5" y="496.5" font-family="'Liberation Sans', sans-serif" font-size="11.2" fill="#000">10</text>
<text transform="translate(668.5,496.5) scale(0.82,1)" font-size="12.2" fill="#000">Feb</text>
<text transform="translate(8.0,520.0) scale(0.933,1)" font-size="12.5" font-weight="bold" fill="#000" stroke="#000" stroke-width="0.35">Williams %R (12)</text>
<text transform="translate(700.0,520.0) scale(0.933,1)" font-size="12.5" font-weight="bold" fill="#000" stroke="#000" stroke-width="0.35">-6.173</text>
<text x="754.7" y="520.6" font-family="'Liberation Sans', sans-serif" font-size="11.2" fill="#000">0</text>
<text x="755.9 760.7 766.7" y="533.6" font-family="'Liberation Sans', sans-serif" font-size="11.2" fill="#000">-20</text>
<text x="755.9 760.7 766.7" y="554.6" font-family="'Liberation Sans', sans-serif" font-size="11.2" fill="#000">-50</text>
<text x="755.9 760.7 766.7" y="575.6" font-family="'Liberation Sans', sans-serif" font-size="11.2" fill="#000">-80</text>
<text x="755.9 760.7 766.7 772.7" y="589.6" font-family="'Liberation Sans', sans-serif" font-size="11.2" fill="#000">-100</text>
<text transform="translate(59.5,596.5) scale(0.82,1)" font-size="12.2" fill="#000">Apr</text>
<text transform="translate(88.5,596.5) scale(0.82,1)" font-size="12.2" fill="#000">May</text>
<text transform="translate(146.5,596.5) scale(0.82,1)" font-size="12.2" fill="#000">Jun</text>
<text transform="translate(214.5,596.5) scale(0.82,1)" font-size="12.2" fill="#000">Jul</text>
<text transform="translate(281.5,596.5) scale(0.82,1)" font-size="12.2" fill="#000">Aug</text>
<text transform="translate(343.5,596.5) scale(0.82,1)" font-size="12.2" fill="#000">Sep</text>
<text transform="translate(410.5,596.5) scale(0.82,1)" font-size="12.2" fill="#000">Oct</text>
<text transform="translate(478.5,596.5) scale(0.82,1)" font-size="12.2" fill="#000">Nov</text>
<text transform="translate(543.5,596.5) scale(0.82,1)" font-size="12.2" fill="#000">Dec</text>
<text x="607.5 613.5" y="596.5" font-family="'Liberation Sans', sans-serif" font-size="11.2" fill="#000">10</text>
<text transform="translate(668.5,596.5) scale(0.82,1)" font-size="12.2" fill="#000">Feb</text>
<text transform="translate(8.0,620.0) scale(0.933,1)" font-size="12.5" font-weight="bold" fill="#000" stroke="#000" stroke-width="0.35">MACD(12,25)</text>
<text transform="translate(97.5,620.0) scale(0.933,1)" font-size="12.5" font-weight="bold" fill="#FF0000" stroke="#FF0000" stroke-width="0.35">MACD EMA(9)</text>
<text transform="translate(650.0,620.0) scale(0.933,1)" font-size="12.5" font-weight="bold" fill="#000" stroke="#000" stroke-width="0.35">0.050</text>
<text transform="translate(700.0,620.0) scale(0.933,1)" font-size="12.5" font-weight="bold" fill="#FF0000" stroke="#FF0000" stroke-width="0.35">-0.001</text>
<text x="754.7 762.3 766.7 772.7 778.7" y="612.6" font-family="'Liberation Sans', sans-serif" font-size="11.2" fill="#000">0.150</text>
<text x="754.7 762.3 766.7 772.7 778.7" y="627.6" font-family="'Liberation Sans', sans-serif" font-size="11.2" fill="#000">0.100</text>
<text x="754.7 762.3 766.7 772.7 778.7" y="642.6" font-family="'Liberation Sans', sans-serif" font-size="11.2" fill="#000">0.050</text>
<text x="754.7 762.3 766.7 772.7 778.7" y="657.6" font-family="'Liberation Sans', sans-serif" font-size="11.2" fill="#000">0.000</text>
<text x="755.9 760.7 768.3 772.7 778.7 784.7" y="672.6" font-family="'Liberation Sans', sans-serif" font-size="11.2" fill="#000">-0.050</text>
<text x="755.9 760.7 768.3 772.7 778.7 784.7" y="687.6" font-family="'Liberation Sans', sans-serif" font-size="11.2" fill="#000">-0.100</text>
<text transform="translate(59.5,696.5) scale(0.82,1)" font-size="12.2" fill="#000">Apr</text>
<text transform="translate(88.5,696.5) scale(0.82,1)" font-size="12.2" fill="#000">May</text>
<text transform="translate(146.5,696.5) scale(0.82,1)" font-size="12.2" fill="#000">Jun</text>
<text transform="translate(214.5,696.5) scale(0.82,1)" font-size="12.2" fill="#000">Jul</text>
<text transform="translate(281.5,696.5) scale(0.82,1)" font-size="12.2" fill="#000">Aug</text>
<text transform="translate(343.5,696.5) scale(0.82,1)" font-size="12.2" fill="#000">Sep</text>
<text transform="translate(410.5,696.5) scale(0.82,1)" font-size="12.2" fill="#000">Oct</text>
<text transform="translate(478.5,696.5) scale(0.82,1)" font-size="12.2" fill="#000">Nov</text>
<text transform="translate(543.5,696.5) scale(0.82,1)" font-size="12.2" fill="#000">Dec</text>
<text x="607.5 613.5" y="696.5" font-family="'Liberation Sans', sans-serif" font-size="11.2" fill="#000">10</text>
<text transform="translate(668.5,696.5) scale(0.82,1)" font-size="12.2" fill="#000">Feb</text>
</g>
</svg>
</body></html>
